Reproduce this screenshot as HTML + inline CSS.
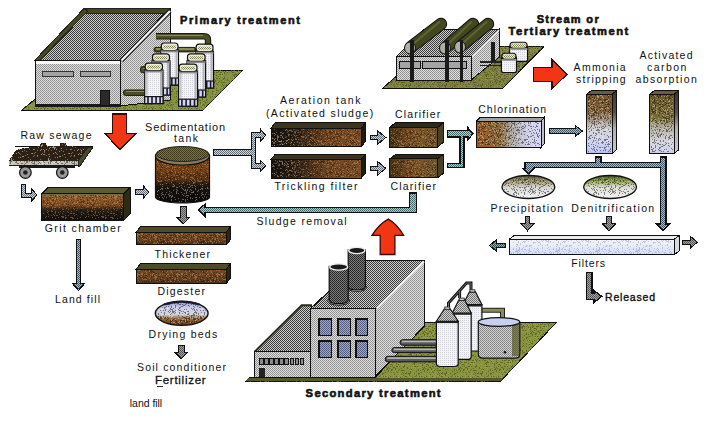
<!DOCTYPE html><html><head><meta charset="utf-8"><style>html,body{margin:0;padding:0;background:#fff;overflow:hidden}svg{display:block}text{font-family:"Liberation Sans",sans-serif}</style></head><body>
<svg width="721" height="422" viewBox="0 0 721 422" shape-rendering="crispEdges">
<defs>
<pattern id="chkL" width="2" height="2" patternUnits="userSpaceOnUse"><rect width="2" height="2" fill="#e0e0e0"/><rect width="1" height="1" fill="#8c8c8c"/><rect x="1" y="1" width="1" height="1" fill="#989898"/></pattern>
<pattern id="chkR" width="2" height="2" patternUnits="userSpaceOnUse"><rect width="2" height="2" fill="#d0d0d0"/><rect width="1" height="1" fill="#363636"/><rect x="1" y="1" width="1" height="1" fill="#3c3c3c"/></pattern>
<pattern id="chkS" width="2" height="2" patternUnits="userSpaceOnUse"><rect width="2" height="2" fill="#e4e4e4"/><rect width="1" height="1" fill="#8c8c8c"/><rect x="1" y="1" width="1" height="1" fill="#969696"/></pattern>
<pattern id="garr" width="2" height="2" patternUnits="userSpaceOnUse"><rect width="2" height="2" fill="#ccd4dc"/><rect width="1" height="1" fill="#5e6872"/><rect x="1" y="1" width="1" height="1" fill="#6a747e"/></pattern>
<pattern id="teal" width="2" height="2" patternUnits="userSpaceOnUse"><rect width="2" height="2" fill="#b0cccc"/><rect width="1" height="1" fill="#3a6466"/><rect x="1" y="1" width="1" height="1" fill="#4a7476"/></pattern>
<pattern id="grass" width="2" height="2" patternUnits="userSpaceOnUse"><rect width="2" height="2" fill="#86943e"/><rect width="1" height="1" fill="#7a8838"/></pattern>
<linearGradient id="gBrownDark" x1="0" y1="0" x2="0" y2="1"><stop offset="0" stop-color="#7a6a50"/><stop offset="0.15" stop-color="#8a5a2a"/><stop offset="0.45" stop-color="#7a4a20"/><stop offset="0.62" stop-color="#2a2018"/><stop offset="1" stop-color="#101010"/></linearGradient>
<linearGradient id="gTank" x1="0" y1="0" x2="0" y2="1"><stop offset="0" stop-color="#6a4a2a"/><stop offset="0.28" stop-color="#7a4418"/><stop offset="0.5" stop-color="#5a3418"/><stop offset="0.66" stop-color="#1c1610"/><stop offset="1" stop-color="#0c0a08"/></linearGradient>
<linearGradient id="gAer" x1="0" y1="0" x2="1" y2="0"><stop offset="0" stop-color="#141210"/><stop offset="0.35" stop-color="#3a2818"/><stop offset="0.6" stop-color="#6c4422"/><stop offset="1" stop-color="#7a4e28"/></linearGradient>
<linearGradient id="gClar" x1="0" y1="0" x2="1" y2="0"><stop offset="0" stop-color="#3e3218"/><stop offset="0.3" stop-color="#6a4420"/><stop offset="0.6" stop-color="#7a5428"/><stop offset="1" stop-color="#6a5430"/></linearGradient>
<linearGradient id="gChl" x1="0" y1="0" x2="1" y2="0"><stop offset="0" stop-color="#9a5a20"/><stop offset="0.35" stop-color="#8e6a3a"/><stop offset="0.55" stop-color="#aaa49c"/><stop offset="0.8" stop-color="#d0d0ec"/><stop offset="1" stop-color="#d6d6f6"/></linearGradient>
<linearGradient id="gAmm" x1="0" y1="0" x2="0" y2="1"><stop offset="0" stop-color="#7a5a30"/><stop offset="0.3" stop-color="#806038"/><stop offset="0.45" stop-color="#a8988a"/><stop offset="0.6" stop-color="#d4d4d8"/><stop offset="0.82" stop-color="#ccd0f0"/><stop offset="1" stop-color="#b8c0f4"/></linearGradient>
<linearGradient id="gCarb" x1="0" y1="0" x2="0" y2="1"><stop offset="0" stop-color="#6a5a2a"/><stop offset="0.4" stop-color="#7a6a34"/><stop offset="0.55" stop-color="#b0aa98"/><stop offset="0.8" stop-color="#d4d4dc"/><stop offset="1" stop-color="#c8cce8"/></linearGradient>
<linearGradient id="gThick" x1="0" y1="0" x2="0" y2="1"><stop offset="0" stop-color="#6e4a26"/><stop offset="0.6" stop-color="#6a4422"/><stop offset="1" stop-color="#4a3018"/></linearGradient>
<linearGradient id="gEllP" x1="0" y1="0" x2="0" y2="1"><stop offset="0" stop-color="#5a5a48"/><stop offset="0.25" stop-color="#948c62"/><stop offset="0.5" stop-color="#d0d0cc"/><stop offset="1" stop-color="#f4f4f4"/></linearGradient>
<linearGradient id="gEllD" x1="0" y1="0" x2="0" y2="1"><stop offset="0" stop-color="#4a5a28"/><stop offset="0.25" stop-color="#8a9a48"/><stop offset="0.5" stop-color="#d8d8d0"/><stop offset="1" stop-color="#f4f4f4"/></linearGradient>
<linearGradient id="gDry" x1="0" y1="0" x2="0" y2="1"><stop offset="0" stop-color="#8080a8"/><stop offset="0.25" stop-color="#c8c8ec"/><stop offset="0.55" stop-color="#d0d0d8"/><stop offset="0.68" stop-color="#9a7a58"/><stop offset="0.8" stop-color="#8a5a2c"/><stop offset="1" stop-color="#6a4020"/></linearGradient>
<linearGradient id="gAmmS" x1="0" y1="0" x2="0" y2="1"><stop offset="0" stop-color="#3a3428"/><stop offset="0.35" stop-color="#5a5448"/><stop offset="0.6" stop-color="#b0b0b0"/><stop offset="1" stop-color="#c8c8d0"/></linearGradient>
<linearGradient id="gCarbS" x1="0" y1="0" x2="0" y2="1"><stop offset="0" stop-color="#3a3428"/><stop offset="0.35" stop-color="#5a5448"/><stop offset="0.6" stop-color="#b0b0b0"/><stop offset="1" stop-color="#c8c8d0"/></linearGradient>
<pattern id="darr" width="2" height="2" patternUnits="userSpaceOnUse"><rect width="2" height="2" fill="#a0a0a0"/><rect width="1" height="1" fill="#505050"/><rect x="1" y="1" width="1" height="1" fill="#606060"/></pattern>
<pattern id="bgray" width="2" height="2" patternUnits="userSpaceOnUse"><rect width="2" height="2" fill="#a8bccc"/><rect width="1" height="1" fill="#3a5060"/><rect x="1" y="1" width="1" height="1" fill="#445a6a"/></pattern>
<pattern id="dteal" width="2" height="2" patternUnits="userSpaceOnUse"><rect width="2" height="2" fill="#8ab0b0"/><rect width="1" height="1" fill="#2a4a4a"/><rect x="1" y="1" width="1" height="1" fill="#345656"/></pattern>
<pattern id="win" width="2" height="2" patternUnits="userSpaceOnUse"><rect width="2" height="2" fill="#a0a8d0"/><rect width="1" height="1" fill="#505878"/><rect x="1" y="1" width="1" height="1" fill="#5a6282"/></pattern>
<pattern id="chim" width="2" height="2" patternUnits="userSpaceOnUse"><rect width="2" height="2" fill="#808080"/><rect width="1" height="1" fill="#202020"/><rect x="1" y="1" width="1" height="1" fill="#2a2a2a"/></pattern>
<pattern id="silo" width="2" height="2" patternUnits="userSpaceOnUse"><rect width="2" height="2" fill="#f4f4f8"/><rect width="1" height="1" fill="#d0d0d8"/></pattern>
<pattern id="tankG" width="2" height="2" patternUnits="userSpaceOnUse"><rect width="2" height="2" fill="#d8d8d8"/><rect width="1" height="1" fill="#7a7a7a"/><rect x="1" y="1" width="1" height="1" fill="#8a8a8a"/></pattern>
<pattern id="grass2" width="2" height="2" patternUnits="userSpaceOnUse"><rect width="2" height="2" fill="#8a963e"/><rect width="1" height="1" fill="#7e8a38"/></pattern>
<pattern id="capd" width="2" height="2" patternUnits="userSpaceOnUse"><rect width="2" height="2" fill="#f0f0dc"/><rect width="1" height="1" fill="#7a7a48"/><rect x="1" y="1" width="1" height="1" fill="#8a8a54"/></pattern>
<pattern id="nz" width="40" height="40" patternUnits="userSpaceOnUse"><path d="M6 0h1v1h-1zM10 0h1v1h-1zM12 0h1v1h-1zM15 0h1v1h-1zM20 0h1v1h-1zM21 0h1v1h-1zM23 0h1v1h-1zM24 0h1v1h-1zM26 0h1v1h-1zM3 1h1v1h-1zM10 1h1v1h-1zM11 1h1v1h-1zM16 1h1v1h-1zM20 1h1v1h-1zM24 1h1v1h-1zM26 1h1v1h-1zM27 1h1v1h-1zM29 1h1v1h-1zM32 1h1v1h-1zM34 1h1v1h-1zM36 1h1v1h-1zM38 1h1v1h-1zM4 2h1v1h-1zM8 2h1v1h-1zM10 2h1v1h-1zM15 2h1v1h-1zM16 2h1v1h-1zM26 2h1v1h-1zM27 2h1v1h-1zM31 2h1v1h-1zM34 2h1v1h-1zM39 2h1v1h-1zM0 3h1v1h-1zM8 3h1v1h-1zM10 3h1v1h-1zM17 3h1v1h-1zM18 3h1v1h-1zM21 3h1v1h-1zM22 3h1v1h-1zM25 3h1v1h-1zM32 3h1v1h-1zM33 3h1v1h-1zM34 3h1v1h-1zM38 3h1v1h-1zM4 4h1v1h-1zM24 4h1v1h-1zM34 4h1v1h-1zM36 4h1v1h-1zM5 5h1v1h-1zM8 5h1v1h-1zM9 5h1v1h-1zM16 5h1v1h-1zM24 5h1v1h-1zM31 5h1v1h-1zM34 5h1v1h-1zM2 6h1v1h-1zM3 6h1v1h-1zM5 6h1v1h-1zM10 6h1v1h-1zM11 6h1v1h-1zM13 6h1v1h-1zM16 6h1v1h-1zM17 6h1v1h-1zM25 6h1v1h-1zM27 6h1v1h-1zM28 6h1v1h-1zM31 6h1v1h-1zM1 7h1v1h-1zM4 7h1v1h-1zM15 7h1v1h-1zM20 7h1v1h-1zM30 7h1v1h-1zM35 7h1v1h-1zM37 7h1v1h-1zM39 7h1v1h-1zM2 8h1v1h-1zM3 8h1v1h-1zM11 8h1v1h-1zM24 8h1v1h-1zM29 8h1v1h-1zM33 8h1v1h-1zM1 9h1v1h-1zM8 9h1v1h-1zM14 9h1v1h-1zM17 9h1v1h-1zM19 9h1v1h-1zM20 9h1v1h-1zM26 9h1v1h-1zM28 9h1v1h-1zM31 9h1v1h-1zM37 9h1v1h-1zM38 9h1v1h-1zM12 10h1v1h-1zM15 10h1v1h-1zM19 10h1v1h-1zM23 10h1v1h-1zM26 10h1v1h-1zM27 10h1v1h-1zM31 10h1v1h-1zM36 10h1v1h-1zM37 10h1v1h-1zM38 10h1v1h-1zM39 10h1v1h-1zM3 11h1v1h-1zM4 11h1v1h-1zM5 11h1v1h-1zM9 11h1v1h-1zM10 11h1v1h-1zM19 11h1v1h-1zM22 11h1v1h-1zM26 11h1v1h-1zM27 11h1v1h-1zM29 11h1v1h-1zM13 12h1v1h-1zM16 12h1v1h-1zM33 12h1v1h-1zM38 12h1v1h-1zM39 12h1v1h-1zM1 13h1v1h-1zM11 13h1v1h-1zM14 13h1v1h-1zM16 13h1v1h-1zM18 13h1v1h-1zM21 13h1v1h-1zM33 13h1v1h-1zM35 13h1v1h-1zM36 13h1v1h-1zM1 14h1v1h-1zM4 14h1v1h-1zM17 14h1v1h-1zM20 14h1v1h-1zM21 14h1v1h-1zM23 14h1v1h-1zM36 14h1v1h-1zM7 15h1v1h-1zM12 15h1v1h-1zM13 15h1v1h-1zM17 15h1v1h-1zM19 15h1v1h-1zM20 15h1v1h-1zM26 15h1v1h-1zM30 15h1v1h-1zM31 15h1v1h-1zM35 15h1v1h-1zM8 16h1v1h-1zM10 16h1v1h-1zM11 16h1v1h-1zM17 16h1v1h-1zM18 16h1v1h-1zM20 16h1v1h-1zM25 16h1v1h-1zM29 16h1v1h-1zM8 17h1v1h-1zM14 17h1v1h-1zM18 17h1v1h-1zM25 17h1v1h-1zM28 17h1v1h-1zM29 17h1v1h-1zM32 17h1v1h-1zM34 17h1v1h-1zM25 18h1v1h-1zM29 18h1v1h-1zM30 18h1v1h-1zM34 18h1v1h-1zM36 18h1v1h-1zM39 18h1v1h-1zM0 19h1v1h-1zM4 19h1v1h-1zM5 19h1v1h-1zM6 19h1v1h-1zM7 19h1v1h-1zM12 19h1v1h-1zM14 19h1v1h-1zM28 19h1v1h-1zM38 19h1v1h-1zM4 20h1v1h-1zM5 20h1v1h-1zM14 20h1v1h-1zM16 20h1v1h-1zM20 20h1v1h-1zM23 20h1v1h-1zM33 20h1v1h-1zM35 20h1v1h-1zM38 20h1v1h-1zM2 21h1v1h-1zM8 21h1v1h-1zM14 21h1v1h-1zM20 21h1v1h-1zM23 21h1v1h-1zM33 21h1v1h-1zM1 22h1v1h-1zM2 22h1v1h-1zM3 22h1v1h-1zM6 22h1v1h-1zM10 22h1v1h-1zM12 22h1v1h-1zM13 22h1v1h-1zM15 22h1v1h-1zM25 22h1v1h-1zM32 22h1v1h-1zM36 22h1v1h-1zM2 23h1v1h-1zM8 23h1v1h-1zM14 23h1v1h-1zM17 23h1v1h-1zM18 23h1v1h-1zM26 23h1v1h-1zM28 23h1v1h-1zM38 23h1v1h-1zM5 24h1v1h-1zM7 24h1v1h-1zM8 24h1v1h-1zM9 24h1v1h-1zM19 24h1v1h-1zM20 24h1v1h-1zM22 24h1v1h-1zM25 24h1v1h-1zM31 24h1v1h-1zM33 24h1v1h-1zM15 25h1v1h-1zM23 25h1v1h-1zM24 25h1v1h-1zM28 25h1v1h-1zM35 25h1v1h-1zM6 26h1v1h-1zM8 26h1v1h-1zM11 26h1v1h-1zM15 26h1v1h-1zM21 26h1v1h-1zM22 26h1v1h-1zM29 26h1v1h-1zM33 26h1v1h-1zM37 26h1v1h-1zM0 27h1v1h-1zM2 27h1v1h-1zM4 27h1v1h-1zM5 27h1v1h-1zM11 27h1v1h-1zM15 27h1v1h-1zM19 27h1v1h-1zM20 27h1v1h-1zM34 27h1v1h-1zM39 27h1v1h-1zM4 28h1v1h-1zM10 28h1v1h-1zM13 28h1v1h-1zM19 28h1v1h-1zM31 28h1v1h-1zM33 28h1v1h-1zM5 29h1v1h-1zM10 29h1v1h-1zM11 29h1v1h-1zM12 29h1v1h-1zM18 29h1v1h-1zM24 29h1v1h-1zM26 29h1v1h-1zM32 29h1v1h-1zM34 29h1v1h-1zM36 29h1v1h-1zM0 30h1v1h-1zM3 30h1v1h-1zM5 30h1v1h-1zM9 30h1v1h-1zM12 30h1v1h-1zM15 30h1v1h-1zM19 30h1v1h-1zM20 30h1v1h-1zM34 30h1v1h-1zM37 30h1v1h-1zM8 31h1v1h-1zM10 31h1v1h-1zM12 31h1v1h-1zM13 31h1v1h-1zM14 31h1v1h-1zM21 31h1v1h-1zM23 31h1v1h-1zM27 31h1v1h-1zM28 31h1v1h-1zM35 31h1v1h-1zM1 32h1v1h-1zM4 32h1v1h-1zM9 32h1v1h-1zM12 32h1v1h-1zM13 32h1v1h-1zM15 32h1v1h-1zM19 32h1v1h-1zM24 32h1v1h-1zM25 32h1v1h-1zM34 32h1v1h-1zM35 32h1v1h-1zM36 32h1v1h-1zM4 33h1v1h-1zM11 33h1v1h-1zM14 33h1v1h-1zM19 33h1v1h-1zM22 33h1v1h-1zM25 33h1v1h-1zM28 33h1v1h-1zM33 33h1v1h-1zM36 33h1v1h-1zM38 33h1v1h-1zM4 34h1v1h-1zM10 34h1v1h-1zM27 34h1v1h-1zM28 34h1v1h-1zM33 34h1v1h-1zM34 34h1v1h-1zM38 34h1v1h-1zM18 35h1v1h-1zM29 35h1v1h-1zM31 35h1v1h-1zM32 35h1v1h-1zM33 35h1v1h-1zM34 35h1v1h-1zM36 35h1v1h-1zM0 36h1v1h-1zM3 36h1v1h-1zM22 36h1v1h-1zM26 36h1v1h-1zM27 36h1v1h-1zM31 36h1v1h-1zM38 36h1v1h-1zM0 37h1v1h-1zM1 37h1v1h-1zM5 37h1v1h-1zM7 37h1v1h-1zM23 37h1v1h-1zM24 37h1v1h-1zM25 37h1v1h-1zM29 37h1v1h-1zM31 37h1v1h-1zM33 37h1v1h-1zM0 38h1v1h-1zM1 38h1v1h-1zM4 38h1v1h-1zM5 38h1v1h-1zM8 38h1v1h-1zM14 38h1v1h-1zM25 38h1v1h-1zM26 38h1v1h-1zM27 38h1v1h-1zM28 38h1v1h-1zM29 38h1v1h-1zM34 38h1v1h-1zM35 38h1v1h-1zM37 38h1v1h-1zM7 39h1v1h-1zM13 39h1v1h-1zM26 39h1v1h-1zM29 39h1v1h-1zM33 39h1v1h-1zM34 39h1v1h-1zM35 39h1v1h-1zM38 39h1v1h-1z" fill="#000" fill-opacity="0.45"/><path d="M11 0h1v1h-1zM25 0h1v1h-1zM35 0h1v1h-1zM0 1h1v1h-1zM1 1h1v1h-1zM2 1h1v1h-1zM19 1h1v1h-1zM21 1h1v1h-1zM25 1h1v1h-1zM39 1h1v1h-1zM2 2h1v1h-1zM11 2h1v1h-1zM13 2h1v1h-1zM14 2h1v1h-1zM18 2h1v1h-1zM30 2h1v1h-1zM2 3h1v1h-1zM4 3h1v1h-1zM7 3h1v1h-1zM11 3h1v1h-1zM15 3h1v1h-1zM19 3h1v1h-1zM2 4h1v1h-1zM12 4h1v1h-1zM39 4h1v1h-1zM4 5h1v1h-1zM6 5h1v1h-1zM14 5h1v1h-1zM23 5h1v1h-1zM30 5h1v1h-1zM33 5h1v1h-1zM38 5h1v1h-1zM8 6h1v1h-1zM15 6h1v1h-1zM32 6h1v1h-1zM33 6h1v1h-1zM26 7h1v1h-1zM29 7h1v1h-1zM0 8h1v1h-1zM12 8h1v1h-1zM14 8h1v1h-1zM20 8h1v1h-1zM6 9h1v1h-1zM13 9h1v1h-1zM21 9h1v1h-1zM23 9h1v1h-1zM24 9h1v1h-1zM30 9h1v1h-1zM5 10h1v1h-1zM9 10h1v1h-1zM10 10h1v1h-1zM16 10h1v1h-1zM18 10h1v1h-1zM14 11h1v1h-1zM0 12h1v1h-1zM14 12h1v1h-1zM17 12h1v1h-1zM20 12h1v1h-1zM23 12h1v1h-1zM36 12h1v1h-1zM2 13h1v1h-1zM27 13h1v1h-1zM30 13h1v1h-1zM32 13h1v1h-1zM34 13h1v1h-1zM9 14h1v1h-1zM27 14h1v1h-1zM35 14h1v1h-1zM0 15h1v1h-1zM1 15h1v1h-1zM8 15h1v1h-1zM14 15h1v1h-1zM27 15h1v1h-1zM37 15h1v1h-1zM2 16h1v1h-1zM15 16h1v1h-1zM21 16h1v1h-1zM24 16h1v1h-1zM26 16h1v1h-1zM37 16h1v1h-1zM38 16h1v1h-1zM2 17h1v1h-1zM17 17h1v1h-1zM37 17h1v1h-1zM38 17h1v1h-1zM3 18h1v1h-1zM32 18h1v1h-1zM35 18h1v1h-1zM8 19h1v1h-1zM11 19h1v1h-1zM13 19h1v1h-1zM16 19h1v1h-1zM20 19h1v1h-1zM23 19h1v1h-1zM27 19h1v1h-1zM34 19h1v1h-1zM37 19h1v1h-1zM6 20h1v1h-1zM7 20h1v1h-1zM12 20h1v1h-1zM21 20h1v1h-1zM29 20h1v1h-1zM0 21h1v1h-1zM1 21h1v1h-1zM3 21h1v1h-1zM6 21h1v1h-1zM17 21h1v1h-1zM25 21h1v1h-1zM28 21h1v1h-1zM29 21h1v1h-1zM32 21h1v1h-1zM35 21h1v1h-1zM39 21h1v1h-1zM11 22h1v1h-1zM23 22h1v1h-1zM33 22h1v1h-1zM34 22h1v1h-1zM6 23h1v1h-1zM19 23h1v1h-1zM22 23h1v1h-1zM33 23h1v1h-1zM0 24h1v1h-1zM2 24h1v1h-1zM13 24h1v1h-1zM27 24h1v1h-1zM29 24h1v1h-1zM14 25h1v1h-1zM21 25h1v1h-1zM31 25h1v1h-1zM32 25h1v1h-1zM34 25h1v1h-1zM2 26h1v1h-1zM12 26h1v1h-1zM13 26h1v1h-1zM14 26h1v1h-1zM19 26h1v1h-1zM24 26h1v1h-1zM30 26h1v1h-1zM35 26h1v1h-1zM7 27h1v1h-1zM16 27h1v1h-1zM17 27h1v1h-1zM21 27h1v1h-1zM28 27h1v1h-1zM29 27h1v1h-1zM32 27h1v1h-1zM1 28h1v1h-1zM2 28h1v1h-1zM5 28h1v1h-1zM7 28h1v1h-1zM8 28h1v1h-1zM22 28h1v1h-1zM35 28h1v1h-1zM0 29h1v1h-1zM2 29h1v1h-1zM16 29h1v1h-1zM23 29h1v1h-1zM25 29h1v1h-1zM27 29h1v1h-1zM30 29h1v1h-1zM35 29h1v1h-1zM13 30h1v1h-1zM17 30h1v1h-1zM24 30h1v1h-1zM25 30h1v1h-1zM27 30h1v1h-1zM31 30h1v1h-1zM38 30h1v1h-1zM9 31h1v1h-1zM16 31h1v1h-1zM26 31h1v1h-1zM29 31h1v1h-1zM33 31h1v1h-1zM37 31h1v1h-1zM2 32h1v1h-1zM6 32h1v1h-1zM11 32h1v1h-1zM16 32h1v1h-1zM21 32h1v1h-1zM26 32h1v1h-1zM31 32h1v1h-1zM32 32h1v1h-1zM33 32h1v1h-1zM1 33h1v1h-1zM9 33h1v1h-1zM16 33h1v1h-1zM18 33h1v1h-1zM24 33h1v1h-1zM26 33h1v1h-1zM2 34h1v1h-1zM3 34h1v1h-1zM5 34h1v1h-1zM8 34h1v1h-1zM22 34h1v1h-1zM30 34h1v1h-1zM35 34h1v1h-1zM37 34h1v1h-1zM1 35h1v1h-1zM9 35h1v1h-1zM10 35h1v1h-1zM12 35h1v1h-1zM23 35h1v1h-1zM26 35h1v1h-1zM27 35h1v1h-1zM28 35h1v1h-1zM4 36h1v1h-1zM9 36h1v1h-1zM11 36h1v1h-1zM12 36h1v1h-1zM25 36h1v1h-1zM2 37h1v1h-1zM6 37h1v1h-1zM11 37h1v1h-1zM14 37h1v1h-1zM27 37h1v1h-1zM30 37h1v1h-1zM35 37h1v1h-1zM36 37h1v1h-1zM39 37h1v1h-1zM3 38h1v1h-1zM18 38h1v1h-1zM30 38h1v1h-1zM32 38h1v1h-1zM11 39h1v1h-1zM15 39h1v1h-1zM22 39h1v1h-1zM23 39h1v1h-1zM25 39h1v1h-1zM27 39h1v1h-1zM36 39h1v1h-1z" fill="#fff" fill-opacity="0.35"/></pattern>
<pattern id="nzL" width="40" height="40" patternUnits="userSpaceOnUse"><path d="M4 0h1v1h-1zM8 0h1v1h-1zM12 0h1v1h-1zM15 0h1v1h-1zM20 0h1v1h-1zM23 0h1v1h-1zM27 0h1v1h-1zM34 0h1v1h-1zM1 1h1v1h-1zM5 1h1v1h-1zM11 1h1v1h-1zM20 1h1v1h-1zM23 1h1v1h-1zM31 1h1v1h-1zM39 1h1v1h-1zM2 2h1v1h-1zM6 2h1v1h-1zM13 2h1v1h-1zM15 2h1v1h-1zM16 2h1v1h-1zM20 2h1v1h-1zM21 2h1v1h-1zM26 2h1v1h-1zM28 2h1v1h-1zM32 2h1v1h-1zM35 2h1v1h-1zM2 3h1v1h-1zM3 3h1v1h-1zM6 3h1v1h-1zM7 3h1v1h-1zM11 3h1v1h-1zM18 3h1v1h-1zM28 3h1v1h-1zM1 4h1v1h-1zM9 4h1v1h-1zM11 4h1v1h-1zM20 4h1v1h-1zM22 4h1v1h-1zM30 4h1v1h-1zM6 5h1v1h-1zM10 5h1v1h-1zM12 5h1v1h-1zM14 5h1v1h-1zM17 5h1v1h-1zM18 5h1v1h-1zM26 5h1v1h-1zM28 5h1v1h-1zM32 5h1v1h-1zM36 5h1v1h-1zM0 6h1v1h-1zM2 6h1v1h-1zM3 6h1v1h-1zM7 6h1v1h-1zM9 6h1v1h-1zM10 6h1v1h-1zM15 6h1v1h-1zM17 6h1v1h-1zM25 6h1v1h-1zM26 6h1v1h-1zM30 6h1v1h-1zM32 6h1v1h-1zM33 6h1v1h-1zM38 6h1v1h-1zM0 7h1v1h-1zM2 7h1v1h-1zM22 7h1v1h-1zM24 7h1v1h-1zM28 7h1v1h-1zM29 7h1v1h-1zM33 7h1v1h-1zM36 7h1v1h-1zM39 7h1v1h-1zM12 8h1v1h-1zM13 8h1v1h-1zM22 8h1v1h-1zM30 8h1v1h-1zM32 8h1v1h-1zM37 8h1v1h-1zM1 9h1v1h-1zM7 9h1v1h-1zM14 9h1v1h-1zM17 9h1v1h-1zM18 9h1v1h-1zM22 9h1v1h-1zM23 9h1v1h-1zM28 9h1v1h-1zM32 9h1v1h-1zM35 9h1v1h-1zM4 10h1v1h-1zM6 10h1v1h-1zM8 10h1v1h-1zM10 10h1v1h-1zM23 10h1v1h-1zM28 10h1v1h-1zM39 10h1v1h-1zM1 11h1v1h-1zM4 11h1v1h-1zM9 11h1v1h-1zM13 11h1v1h-1zM15 11h1v1h-1zM16 11h1v1h-1zM19 11h1v1h-1zM32 11h1v1h-1zM33 11h1v1h-1zM38 11h1v1h-1zM5 12h1v1h-1zM16 12h1v1h-1zM20 12h1v1h-1zM28 12h1v1h-1zM30 12h1v1h-1zM33 12h1v1h-1zM35 12h1v1h-1zM37 12h1v1h-1zM1 13h1v1h-1zM3 13h1v1h-1zM4 13h1v1h-1zM11 13h1v1h-1zM13 13h1v1h-1zM17 13h1v1h-1zM21 13h1v1h-1zM26 13h1v1h-1zM36 13h1v1h-1zM3 14h1v1h-1zM6 14h1v1h-1zM7 14h1v1h-1zM10 14h1v1h-1zM11 14h1v1h-1zM18 14h1v1h-1zM19 14h1v1h-1zM26 14h1v1h-1zM34 14h1v1h-1zM36 14h1v1h-1zM37 14h1v1h-1zM2 15h1v1h-1zM8 15h1v1h-1zM9 15h1v1h-1zM16 15h1v1h-1zM18 15h1v1h-1zM19 15h1v1h-1zM27 15h1v1h-1zM38 15h1v1h-1zM1 16h1v1h-1zM3 16h1v1h-1zM4 16h1v1h-1zM10 16h1v1h-1zM13 16h1v1h-1zM14 16h1v1h-1zM21 16h1v1h-1zM24 16h1v1h-1zM25 16h1v1h-1zM27 16h1v1h-1zM29 16h1v1h-1zM30 16h1v1h-1zM37 16h1v1h-1zM38 16h1v1h-1zM39 16h1v1h-1zM4 17h1v1h-1zM14 17h1v1h-1zM17 17h1v1h-1zM20 17h1v1h-1zM21 17h1v1h-1zM22 17h1v1h-1zM24 17h1v1h-1zM25 17h1v1h-1zM26 17h1v1h-1zM31 17h1v1h-1zM32 17h1v1h-1zM34 17h1v1h-1zM9 18h1v1h-1zM13 18h1v1h-1zM17 18h1v1h-1zM19 18h1v1h-1zM21 18h1v1h-1zM24 18h1v1h-1zM32 18h1v1h-1zM38 18h1v1h-1zM5 19h1v1h-1zM7 19h1v1h-1zM22 19h1v1h-1zM23 19h1v1h-1zM33 19h1v1h-1zM36 19h1v1h-1zM38 19h1v1h-1zM6 20h1v1h-1zM8 20h1v1h-1zM12 20h1v1h-1zM17 20h1v1h-1zM19 20h1v1h-1zM30 20h1v1h-1zM31 20h1v1h-1zM33 20h1v1h-1zM0 21h1v1h-1zM16 21h1v1h-1zM21 21h1v1h-1zM22 21h1v1h-1zM24 21h1v1h-1zM26 21h1v1h-1zM27 21h1v1h-1zM34 21h1v1h-1zM37 21h1v1h-1zM9 22h1v1h-1zM11 22h1v1h-1zM12 22h1v1h-1zM23 22h1v1h-1zM27 22h1v1h-1zM28 22h1v1h-1zM32 22h1v1h-1zM0 23h1v1h-1zM2 23h1v1h-1zM3 23h1v1h-1zM5 23h1v1h-1zM6 23h1v1h-1zM9 23h1v1h-1zM16 23h1v1h-1zM18 23h1v1h-1zM14 24h1v1h-1zM20 24h1v1h-1zM25 24h1v1h-1zM28 24h1v1h-1zM30 24h1v1h-1zM5 25h1v1h-1zM14 25h1v1h-1zM21 25h1v1h-1zM30 25h1v1h-1zM39 25h1v1h-1zM2 26h1v1h-1zM6 26h1v1h-1zM7 26h1v1h-1zM8 26h1v1h-1zM9 26h1v1h-1zM15 26h1v1h-1zM18 26h1v1h-1zM23 26h1v1h-1zM31 26h1v1h-1zM32 26h1v1h-1zM34 26h1v1h-1zM2 27h1v1h-1zM5 27h1v1h-1zM8 27h1v1h-1zM10 27h1v1h-1zM12 27h1v1h-1zM14 27h1v1h-1zM18 27h1v1h-1zM19 27h1v1h-1zM24 27h1v1h-1zM25 27h1v1h-1zM26 27h1v1h-1zM28 27h1v1h-1zM38 27h1v1h-1zM1 28h1v1h-1zM5 28h1v1h-1zM24 28h1v1h-1zM25 28h1v1h-1zM27 28h1v1h-1zM31 28h1v1h-1zM4 29h1v1h-1zM5 29h1v1h-1zM13 29h1v1h-1zM15 29h1v1h-1zM16 29h1v1h-1zM19 29h1v1h-1zM26 29h1v1h-1zM30 29h1v1h-1zM36 29h1v1h-1zM37 29h1v1h-1zM39 29h1v1h-1zM0 30h1v1h-1zM5 30h1v1h-1zM11 30h1v1h-1zM12 30h1v1h-1zM14 30h1v1h-1zM15 30h1v1h-1zM16 30h1v1h-1zM17 30h1v1h-1zM23 30h1v1h-1zM27 30h1v1h-1zM33 30h1v1h-1zM36 30h1v1h-1zM0 31h1v1h-1zM1 31h1v1h-1zM2 31h1v1h-1zM12 31h1v1h-1zM16 31h1v1h-1zM17 31h1v1h-1zM21 31h1v1h-1zM24 31h1v1h-1zM29 31h1v1h-1zM30 31h1v1h-1zM32 31h1v1h-1zM34 31h1v1h-1zM35 31h1v1h-1zM2 32h1v1h-1zM4 32h1v1h-1zM5 32h1v1h-1zM6 32h1v1h-1zM7 32h1v1h-1zM10 32h1v1h-1zM11 32h1v1h-1zM15 32h1v1h-1zM16 32h1v1h-1zM18 32h1v1h-1zM19 32h1v1h-1zM20 32h1v1h-1zM22 32h1v1h-1zM23 32h1v1h-1zM26 32h1v1h-1zM31 32h1v1h-1zM33 32h1v1h-1zM35 32h1v1h-1zM1 33h1v1h-1zM7 33h1v1h-1zM14 33h1v1h-1zM18 33h1v1h-1zM32 33h1v1h-1zM35 33h1v1h-1zM37 33h1v1h-1zM2 34h1v1h-1zM9 34h1v1h-1zM11 34h1v1h-1zM14 34h1v1h-1zM15 34h1v1h-1zM16 34h1v1h-1zM21 34h1v1h-1zM23 34h1v1h-1zM35 34h1v1h-1zM38 34h1v1h-1zM0 35h1v1h-1zM1 35h1v1h-1zM3 35h1v1h-1zM8 35h1v1h-1zM9 35h1v1h-1zM10 35h1v1h-1zM17 35h1v1h-1zM19 35h1v1h-1zM20 35h1v1h-1zM21 35h1v1h-1zM22 35h1v1h-1zM23 35h1v1h-1zM25 35h1v1h-1zM29 35h1v1h-1zM2 36h1v1h-1zM8 36h1v1h-1zM9 36h1v1h-1zM25 36h1v1h-1zM27 36h1v1h-1zM29 36h1v1h-1zM30 36h1v1h-1zM38 36h1v1h-1zM39 36h1v1h-1zM2 37h1v1h-1zM3 37h1v1h-1zM6 37h1v1h-1zM8 37h1v1h-1zM11 37h1v1h-1zM14 37h1v1h-1zM16 37h1v1h-1zM17 37h1v1h-1zM22 37h1v1h-1zM23 37h1v1h-1zM28 37h1v1h-1zM30 37h1v1h-1zM38 37h1v1h-1zM0 38h1v1h-1zM4 38h1v1h-1zM7 38h1v1h-1zM15 38h1v1h-1zM16 38h1v1h-1zM17 38h1v1h-1zM23 38h1v1h-1zM26 38h1v1h-1zM10 39h1v1h-1zM15 39h1v1h-1zM16 39h1v1h-1zM19 39h1v1h-1zM22 39h1v1h-1zM26 39h1v1h-1zM31 39h1v1h-1zM35 39h1v1h-1zM36 39h1v1h-1zM37 39h1v1h-1z" fill="#303040" fill-opacity="0.55"/><path d="" fill="#fff" fill-opacity="0"/></pattern>
<pattern id="nzB" width="40" height="40" patternUnits="userSpaceOnUse"><path d="M3 0h1v1h-1zM7 0h1v1h-1zM8 0h1v1h-1zM12 0h1v1h-1zM13 0h1v1h-1zM19 0h1v1h-1zM31 0h1v1h-1zM37 0h1v1h-1zM38 0h1v1h-1zM1 1h1v1h-1zM2 1h1v1h-1zM3 1h1v1h-1zM4 1h1v1h-1zM15 1h1v1h-1zM24 1h1v1h-1zM26 1h1v1h-1zM28 1h1v1h-1zM0 2h1v1h-1zM1 2h1v1h-1zM3 2h1v1h-1zM7 2h1v1h-1zM9 2h1v1h-1zM32 2h1v1h-1zM39 2h1v1h-1zM7 3h1v1h-1zM10 3h1v1h-1zM14 3h1v1h-1zM17 3h1v1h-1zM26 3h1v1h-1zM6 4h1v1h-1zM11 4h1v1h-1zM13 4h1v1h-1zM22 4h1v1h-1zM26 4h1v1h-1zM28 4h1v1h-1zM33 4h1v1h-1zM36 4h1v1h-1zM39 4h1v1h-1zM0 5h1v1h-1zM2 5h1v1h-1zM12 5h1v1h-1zM13 5h1v1h-1zM30 5h1v1h-1zM34 5h1v1h-1zM1 6h1v1h-1zM11 6h1v1h-1zM23 6h1v1h-1zM27 6h1v1h-1zM28 6h1v1h-1zM35 6h1v1h-1zM37 6h1v1h-1zM1 7h1v1h-1zM2 7h1v1h-1zM4 7h1v1h-1zM11 7h1v1h-1zM21 7h1v1h-1zM25 7h1v1h-1zM29 7h1v1h-1zM32 7h1v1h-1zM34 7h1v1h-1zM35 7h1v1h-1zM6 8h1v1h-1zM9 8h1v1h-1zM11 8h1v1h-1zM13 8h1v1h-1zM15 8h1v1h-1zM17 8h1v1h-1zM24 8h1v1h-1zM32 8h1v1h-1zM0 9h1v1h-1zM1 9h1v1h-1zM20 9h1v1h-1zM27 9h1v1h-1zM32 9h1v1h-1zM35 9h1v1h-1zM0 10h1v1h-1zM5 10h1v1h-1zM12 10h1v1h-1zM20 10h1v1h-1zM23 10h1v1h-1zM27 10h1v1h-1zM35 10h1v1h-1zM9 11h1v1h-1zM10 11h1v1h-1zM13 11h1v1h-1zM21 11h1v1h-1zM28 11h1v1h-1zM37 11h1v1h-1zM5 12h1v1h-1zM9 12h1v1h-1zM10 12h1v1h-1zM11 12h1v1h-1zM12 12h1v1h-1zM16 12h1v1h-1zM37 12h1v1h-1zM6 13h1v1h-1zM7 13h1v1h-1zM10 13h1v1h-1zM17 13h1v1h-1zM21 13h1v1h-1zM24 13h1v1h-1zM28 13h1v1h-1zM35 13h1v1h-1zM36 13h1v1h-1zM37 13h1v1h-1zM39 13h1v1h-1zM3 14h1v1h-1zM6 14h1v1h-1zM11 14h1v1h-1zM15 14h1v1h-1zM16 14h1v1h-1zM17 14h1v1h-1zM18 14h1v1h-1zM20 14h1v1h-1zM21 14h1v1h-1zM27 14h1v1h-1zM28 14h1v1h-1zM30 14h1v1h-1zM34 14h1v1h-1zM38 14h1v1h-1zM7 15h1v1h-1zM19 15h1v1h-1zM26 15h1v1h-1zM30 15h1v1h-1zM31 15h1v1h-1zM33 15h1v1h-1zM36 15h1v1h-1zM39 15h1v1h-1zM1 16h1v1h-1zM3 16h1v1h-1zM7 16h1v1h-1zM11 16h1v1h-1zM16 16h1v1h-1zM18 16h1v1h-1zM19 16h1v1h-1zM29 16h1v1h-1zM35 16h1v1h-1zM7 17h1v1h-1zM13 17h1v1h-1zM14 17h1v1h-1zM20 17h1v1h-1zM29 17h1v1h-1zM35 17h1v1h-1zM1 18h1v1h-1zM8 18h1v1h-1zM9 18h1v1h-1zM10 18h1v1h-1zM12 18h1v1h-1zM14 18h1v1h-1zM17 18h1v1h-1zM30 18h1v1h-1zM34 18h1v1h-1zM36 18h1v1h-1zM38 18h1v1h-1zM1 19h1v1h-1zM7 19h1v1h-1zM10 19h1v1h-1zM17 19h1v1h-1zM26 19h1v1h-1zM3 20h1v1h-1zM17 20h1v1h-1zM30 20h1v1h-1zM32 20h1v1h-1zM33 20h1v1h-1zM4 21h1v1h-1zM5 21h1v1h-1zM14 21h1v1h-1zM15 21h1v1h-1zM19 21h1v1h-1zM26 21h1v1h-1zM28 21h1v1h-1zM30 21h1v1h-1zM31 21h1v1h-1zM33 21h1v1h-1zM36 21h1v1h-1zM2 22h1v1h-1zM13 22h1v1h-1zM25 22h1v1h-1zM30 22h1v1h-1zM32 22h1v1h-1zM33 22h1v1h-1zM34 22h1v1h-1zM35 22h1v1h-1zM5 23h1v1h-1zM8 23h1v1h-1zM12 23h1v1h-1zM16 23h1v1h-1zM18 23h1v1h-1zM31 23h1v1h-1zM32 23h1v1h-1zM38 23h1v1h-1zM9 24h1v1h-1zM12 24h1v1h-1zM25 24h1v1h-1zM27 24h1v1h-1zM36 24h1v1h-1zM38 24h1v1h-1zM2 25h1v1h-1zM4 25h1v1h-1zM9 25h1v1h-1zM15 25h1v1h-1zM16 25h1v1h-1zM26 25h1v1h-1zM28 25h1v1h-1zM30 25h1v1h-1zM6 26h1v1h-1zM7 26h1v1h-1zM8 26h1v1h-1zM10 26h1v1h-1zM16 26h1v1h-1zM19 26h1v1h-1zM23 26h1v1h-1zM28 26h1v1h-1zM31 26h1v1h-1zM32 26h1v1h-1zM37 26h1v1h-1zM8 27h1v1h-1zM9 27h1v1h-1zM11 27h1v1h-1zM13 27h1v1h-1zM25 27h1v1h-1zM27 27h1v1h-1zM32 27h1v1h-1zM34 27h1v1h-1zM35 27h1v1h-1zM38 27h1v1h-1zM39 27h1v1h-1zM2 28h1v1h-1zM4 28h1v1h-1zM9 28h1v1h-1zM17 28h1v1h-1zM18 28h1v1h-1zM23 28h1v1h-1zM32 28h1v1h-1zM36 28h1v1h-1zM39 28h1v1h-1zM10 29h1v1h-1zM11 29h1v1h-1zM13 29h1v1h-1zM22 29h1v1h-1zM27 29h1v1h-1zM28 29h1v1h-1zM38 29h1v1h-1zM0 30h1v1h-1zM2 30h1v1h-1zM3 30h1v1h-1zM6 30h1v1h-1zM24 30h1v1h-1zM27 30h1v1h-1zM28 30h1v1h-1zM30 30h1v1h-1zM31 30h1v1h-1zM1 31h1v1h-1zM3 31h1v1h-1zM6 31h1v1h-1zM30 31h1v1h-1zM31 31h1v1h-1zM32 31h1v1h-1zM33 31h1v1h-1zM3 32h1v1h-1zM4 32h1v1h-1zM14 32h1v1h-1zM16 32h1v1h-1zM29 32h1v1h-1zM31 32h1v1h-1zM33 32h1v1h-1zM34 32h1v1h-1zM5 33h1v1h-1zM13 33h1v1h-1zM19 33h1v1h-1zM24 33h1v1h-1zM35 33h1v1h-1zM36 33h1v1h-1zM38 33h1v1h-1zM6 34h1v1h-1zM14 34h1v1h-1zM23 34h1v1h-1zM28 34h1v1h-1zM29 34h1v1h-1zM4 35h1v1h-1zM5 35h1v1h-1zM10 35h1v1h-1zM11 35h1v1h-1zM13 35h1v1h-1zM15 35h1v1h-1zM25 35h1v1h-1zM26 35h1v1h-1zM33 35h1v1h-1zM15 36h1v1h-1zM19 36h1v1h-1zM23 36h1v1h-1zM27 36h1v1h-1zM31 36h1v1h-1zM33 36h1v1h-1zM38 36h1v1h-1zM39 36h1v1h-1zM0 37h1v1h-1zM2 37h1v1h-1zM3 37h1v1h-1zM6 37h1v1h-1zM9 37h1v1h-1zM10 37h1v1h-1zM12 37h1v1h-1zM16 37h1v1h-1zM20 37h1v1h-1zM22 37h1v1h-1zM24 37h1v1h-1zM25 37h1v1h-1zM31 37h1v1h-1zM7 38h1v1h-1zM10 38h1v1h-1zM23 38h1v1h-1zM26 38h1v1h-1zM37 38h1v1h-1zM0 39h1v1h-1zM1 39h1v1h-1zM7 39h1v1h-1zM13 39h1v1h-1zM16 39h1v1h-1zM33 39h1v1h-1z" fill="#000" fill-opacity="0.35"/><path d="M10 0h1v1h-1zM18 0h1v1h-1zM30 0h1v1h-1zM39 0h1v1h-1zM5 1h1v1h-1zM8 1h1v1h-1zM10 1h1v1h-1zM11 1h1v1h-1zM14 1h1v1h-1zM19 1h1v1h-1zM37 1h1v1h-1zM6 2h1v1h-1zM12 2h1v1h-1zM16 2h1v1h-1zM25 2h1v1h-1zM26 2h1v1h-1zM34 2h1v1h-1zM37 2h1v1h-1zM2 3h1v1h-1zM12 3h1v1h-1zM24 3h1v1h-1zM33 3h1v1h-1zM34 3h1v1h-1zM35 3h1v1h-1zM36 3h1v1h-1zM38 3h1v1h-1zM4 4h1v1h-1zM5 4h1v1h-1zM7 4h1v1h-1zM8 4h1v1h-1zM17 4h1v1h-1zM19 4h1v1h-1zM24 4h1v1h-1zM32 4h1v1h-1zM11 5h1v1h-1zM15 5h1v1h-1zM17 5h1v1h-1zM26 5h1v1h-1zM39 5h1v1h-1zM2 6h1v1h-1zM7 6h1v1h-1zM8 6h1v1h-1zM34 6h1v1h-1zM6 7h1v1h-1zM12 7h1v1h-1zM14 7h1v1h-1zM15 7h1v1h-1zM19 7h1v1h-1zM1 8h1v1h-1zM12 8h1v1h-1zM26 8h1v1h-1zM33 8h1v1h-1zM37 8h1v1h-1zM14 9h1v1h-1zM22 9h1v1h-1zM23 9h1v1h-1zM28 9h1v1h-1zM34 9h1v1h-1zM7 10h1v1h-1zM11 10h1v1h-1zM36 10h1v1h-1zM8 11h1v1h-1zM11 11h1v1h-1zM12 11h1v1h-1zM15 11h1v1h-1zM20 11h1v1h-1zM23 11h1v1h-1zM27 11h1v1h-1zM31 11h1v1h-1zM1 12h1v1h-1zM7 12h1v1h-1zM15 12h1v1h-1zM18 12h1v1h-1zM28 12h1v1h-1zM3 13h1v1h-1zM15 13h1v1h-1zM22 13h1v1h-1zM30 13h1v1h-1zM31 13h1v1h-1zM33 13h1v1h-1zM34 13h1v1h-1zM1 14h1v1h-1zM8 14h1v1h-1zM13 14h1v1h-1zM19 14h1v1h-1zM36 14h1v1h-1zM11 15h1v1h-1zM14 15h1v1h-1zM16 15h1v1h-1zM17 15h1v1h-1zM25 15h1v1h-1zM28 15h1v1h-1zM34 15h1v1h-1zM6 16h1v1h-1zM8 16h1v1h-1zM21 16h1v1h-1zM22 16h1v1h-1zM23 16h1v1h-1zM0 17h1v1h-1zM5 17h1v1h-1zM12 17h1v1h-1zM18 17h1v1h-1zM22 17h1v1h-1zM23 17h1v1h-1zM25 17h1v1h-1zM26 17h1v1h-1zM30 17h1v1h-1zM31 17h1v1h-1zM32 17h1v1h-1zM15 18h1v1h-1zM25 18h1v1h-1zM32 18h1v1h-1zM33 18h1v1h-1zM37 18h1v1h-1zM8 19h1v1h-1zM9 19h1v1h-1zM15 19h1v1h-1zM16 19h1v1h-1zM18 19h1v1h-1zM30 19h1v1h-1zM34 19h1v1h-1zM1 20h1v1h-1zM5 20h1v1h-1zM7 20h1v1h-1zM12 20h1v1h-1zM31 20h1v1h-1zM34 20h1v1h-1zM37 20h1v1h-1zM38 20h1v1h-1zM0 21h1v1h-1zM1 21h1v1h-1zM29 21h1v1h-1zM32 21h1v1h-1zM35 21h1v1h-1zM38 21h1v1h-1zM39 21h1v1h-1zM1 22h1v1h-1zM5 22h1v1h-1zM8 22h1v1h-1zM10 22h1v1h-1zM11 22h1v1h-1zM14 22h1v1h-1zM17 22h1v1h-1zM19 22h1v1h-1zM21 22h1v1h-1zM27 22h1v1h-1zM36 22h1v1h-1zM1 23h1v1h-1zM2 23h1v1h-1zM4 23h1v1h-1zM6 23h1v1h-1zM10 23h1v1h-1zM29 23h1v1h-1zM34 23h1v1h-1zM2 24h1v1h-1zM3 24h1v1h-1zM13 24h1v1h-1zM22 24h1v1h-1zM28 24h1v1h-1zM30 24h1v1h-1zM37 24h1v1h-1zM39 24h1v1h-1zM10 25h1v1h-1zM18 25h1v1h-1zM22 25h1v1h-1zM24 25h1v1h-1zM27 25h1v1h-1zM31 25h1v1h-1zM34 25h1v1h-1zM0 26h1v1h-1zM1 26h1v1h-1zM2 26h1v1h-1zM3 26h1v1h-1zM9 26h1v1h-1zM20 26h1v1h-1zM39 26h1v1h-1zM4 27h1v1h-1zM5 27h1v1h-1zM17 27h1v1h-1zM18 27h1v1h-1zM19 27h1v1h-1zM21 27h1v1h-1zM22 27h1v1h-1zM28 27h1v1h-1zM0 28h1v1h-1zM16 28h1v1h-1zM35 28h1v1h-1zM38 28h1v1h-1zM6 29h1v1h-1zM7 29h1v1h-1zM21 29h1v1h-1zM29 29h1v1h-1zM32 29h1v1h-1zM36 29h1v1h-1zM10 30h1v1h-1zM16 30h1v1h-1zM18 30h1v1h-1zM19 30h1v1h-1zM29 30h1v1h-1zM2 31h1v1h-1zM7 31h1v1h-1zM11 31h1v1h-1zM25 31h1v1h-1zM29 31h1v1h-1zM6 32h1v1h-1zM11 32h1v1h-1zM26 32h1v1h-1zM12 33h1v1h-1zM17 33h1v1h-1zM21 33h1v1h-1zM22 33h1v1h-1zM33 33h1v1h-1zM0 34h1v1h-1zM2 34h1v1h-1zM4 34h1v1h-1zM7 34h1v1h-1zM8 34h1v1h-1zM16 34h1v1h-1zM17 34h1v1h-1zM18 34h1v1h-1zM19 34h1v1h-1zM21 34h1v1h-1zM22 34h1v1h-1zM24 34h1v1h-1zM26 34h1v1h-1zM30 34h1v1h-1zM32 34h1v1h-1zM36 34h1v1h-1zM6 35h1v1h-1zM17 35h1v1h-1zM32 35h1v1h-1zM34 35h1v1h-1zM39 35h1v1h-1zM6 36h1v1h-1zM9 36h1v1h-1zM12 36h1v1h-1zM17 36h1v1h-1zM21 36h1v1h-1zM30 36h1v1h-1zM35 36h1v1h-1zM36 36h1v1h-1zM27 37h1v1h-1zM34 37h1v1h-1zM35 37h1v1h-1zM36 37h1v1h-1zM1 38h1v1h-1zM12 38h1v1h-1zM15 38h1v1h-1zM17 38h1v1h-1zM22 38h1v1h-1zM29 38h1v1h-1zM35 38h1v1h-1zM4 39h1v1h-1zM14 39h1v1h-1zM15 39h1v1h-1zM23 39h1v1h-1zM24 39h1v1h-1zM25 39h1v1h-1zM26 39h1v1h-1zM35 39h1v1h-1z" fill="#e8a060" fill-opacity="0.4"/></pattern>
<pattern id="nzF" width="40" height="40" patternUnits="userSpaceOnUse"><path d="M6 0h1v1h-1zM11 0h1v1h-1zM16 0h1v1h-1zM21 0h1v1h-1zM23 0h1v1h-1zM25 0h1v1h-1zM26 0h1v1h-1zM4 1h1v1h-1zM5 1h1v1h-1zM8 1h1v1h-1zM17 1h1v1h-1zM19 1h1v1h-1zM22 1h1v1h-1zM26 1h1v1h-1zM27 1h1v1h-1zM38 1h1v1h-1zM2 2h1v1h-1zM4 2h1v1h-1zM14 2h1v1h-1zM15 2h1v1h-1zM19 2h1v1h-1zM28 2h1v1h-1zM30 2h1v1h-1zM33 2h1v1h-1zM38 2h1v1h-1zM0 3h1v1h-1zM13 3h1v1h-1zM20 3h1v1h-1zM0 4h1v1h-1zM36 4h1v1h-1zM3 5h1v1h-1zM6 5h1v1h-1zM7 5h1v1h-1zM11 5h1v1h-1zM18 5h1v1h-1zM22 5h1v1h-1zM25 5h1v1h-1zM27 5h1v1h-1zM37 5h1v1h-1zM5 6h1v1h-1zM6 6h1v1h-1zM9 6h1v1h-1zM30 6h1v1h-1zM36 6h1v1h-1zM3 7h1v1h-1zM11 7h1v1h-1zM22 7h1v1h-1zM28 7h1v1h-1zM2 8h1v1h-1zM9 8h1v1h-1zM14 8h1v1h-1zM17 8h1v1h-1zM22 8h1v1h-1zM27 8h1v1h-1zM33 8h1v1h-1zM36 8h1v1h-1zM1 9h1v1h-1zM2 9h1v1h-1zM4 9h1v1h-1zM5 9h1v1h-1zM9 9h1v1h-1zM16 9h1v1h-1zM18 9h1v1h-1zM29 9h1v1h-1zM36 9h1v1h-1zM38 9h1v1h-1zM39 9h1v1h-1zM6 10h1v1h-1zM8 10h1v1h-1zM9 10h1v1h-1zM13 10h1v1h-1zM17 10h1v1h-1zM25 10h1v1h-1zM36 10h1v1h-1zM37 10h1v1h-1zM39 10h1v1h-1zM3 11h1v1h-1zM9 11h1v1h-1zM10 11h1v1h-1zM11 11h1v1h-1zM15 11h1v1h-1zM22 11h1v1h-1zM30 11h1v1h-1zM37 11h1v1h-1zM39 11h1v1h-1zM15 12h1v1h-1zM16 12h1v1h-1zM19 12h1v1h-1zM24 12h1v1h-1zM25 12h1v1h-1zM29 12h1v1h-1zM31 12h1v1h-1zM33 12h1v1h-1zM37 12h1v1h-1zM38 12h1v1h-1zM4 13h1v1h-1zM6 13h1v1h-1zM12 13h1v1h-1zM24 13h1v1h-1zM26 13h1v1h-1zM30 13h1v1h-1zM31 13h1v1h-1zM33 13h1v1h-1zM37 13h1v1h-1zM39 13h1v1h-1zM3 14h1v1h-1zM21 14h1v1h-1zM22 14h1v1h-1zM27 14h1v1h-1zM30 14h1v1h-1zM31 14h1v1h-1zM32 14h1v1h-1zM1 15h1v1h-1zM5 15h1v1h-1zM12 15h1v1h-1zM23 15h1v1h-1zM26 15h1v1h-1zM28 15h1v1h-1zM7 16h1v1h-1zM10 16h1v1h-1zM12 16h1v1h-1zM23 16h1v1h-1zM29 16h1v1h-1zM7 17h1v1h-1zM8 17h1v1h-1zM17 17h1v1h-1zM33 17h1v1h-1zM1 18h1v1h-1zM16 18h1v1h-1zM30 18h1v1h-1zM31 18h1v1h-1zM0 19h1v1h-1zM12 19h1v1h-1zM14 19h1v1h-1zM15 19h1v1h-1zM16 19h1v1h-1zM18 19h1v1h-1zM28 19h1v1h-1zM29 19h1v1h-1zM30 19h1v1h-1zM36 19h1v1h-1zM0 20h1v1h-1zM7 20h1v1h-1zM11 20h1v1h-1zM26 20h1v1h-1zM30 20h1v1h-1zM32 20h1v1h-1zM38 20h1v1h-1zM1 21h1v1h-1zM4 21h1v1h-1zM9 21h1v1h-1zM14 21h1v1h-1zM19 21h1v1h-1zM27 21h1v1h-1zM28 21h1v1h-1zM38 21h1v1h-1zM9 22h1v1h-1zM12 22h1v1h-1zM17 22h1v1h-1zM21 22h1v1h-1zM25 22h1v1h-1zM32 22h1v1h-1zM36 22h1v1h-1zM37 22h1v1h-1zM9 23h1v1h-1zM12 23h1v1h-1zM18 23h1v1h-1zM20 23h1v1h-1zM23 23h1v1h-1zM37 23h1v1h-1zM6 24h1v1h-1zM12 24h1v1h-1zM13 24h1v1h-1zM15 24h1v1h-1zM32 24h1v1h-1zM33 24h1v1h-1zM36 24h1v1h-1zM37 24h1v1h-1zM1 25h1v1h-1zM3 25h1v1h-1zM9 25h1v1h-1zM10 25h1v1h-1zM12 25h1v1h-1zM13 25h1v1h-1zM18 25h1v1h-1zM21 25h1v1h-1zM25 25h1v1h-1zM30 25h1v1h-1zM35 25h1v1h-1zM37 25h1v1h-1zM2 26h1v1h-1zM8 26h1v1h-1zM19 26h1v1h-1zM27 26h1v1h-1zM30 26h1v1h-1zM34 26h1v1h-1zM2 27h1v1h-1zM3 27h1v1h-1zM7 27h1v1h-1zM14 27h1v1h-1zM17 27h1v1h-1zM20 27h1v1h-1zM25 27h1v1h-1zM27 27h1v1h-1zM29 27h1v1h-1zM6 28h1v1h-1zM7 28h1v1h-1zM20 28h1v1h-1zM24 28h1v1h-1zM26 28h1v1h-1zM28 28h1v1h-1zM34 28h1v1h-1zM38 28h1v1h-1zM0 29h1v1h-1zM11 29h1v1h-1zM15 29h1v1h-1zM19 29h1v1h-1zM33 29h1v1h-1zM35 29h1v1h-1zM39 29h1v1h-1zM2 30h1v1h-1zM13 30h1v1h-1zM26 30h1v1h-1zM29 30h1v1h-1zM30 30h1v1h-1zM31 30h1v1h-1zM33 30h1v1h-1zM39 30h1v1h-1zM8 31h1v1h-1zM12 31h1v1h-1zM14 31h1v1h-1zM16 31h1v1h-1zM18 31h1v1h-1zM31 31h1v1h-1zM16 32h1v1h-1zM19 32h1v1h-1zM21 32h1v1h-1zM22 32h1v1h-1zM24 32h1v1h-1zM25 32h1v1h-1zM31 32h1v1h-1zM32 32h1v1h-1zM33 32h1v1h-1zM34 32h1v1h-1zM10 33h1v1h-1zM15 33h1v1h-1zM23 33h1v1h-1zM25 33h1v1h-1zM29 33h1v1h-1zM33 33h1v1h-1zM36 33h1v1h-1zM0 34h1v1h-1zM4 34h1v1h-1zM7 34h1v1h-1zM12 34h1v1h-1zM18 34h1v1h-1zM33 34h1v1h-1zM3 35h1v1h-1zM4 35h1v1h-1zM7 35h1v1h-1zM8 35h1v1h-1zM12 35h1v1h-1zM26 35h1v1h-1zM35 35h1v1h-1zM10 36h1v1h-1zM24 36h1v1h-1zM28 36h1v1h-1zM34 36h1v1h-1zM35 36h1v1h-1zM0 37h1v1h-1zM1 37h1v1h-1zM10 37h1v1h-1zM14 37h1v1h-1zM25 37h1v1h-1zM28 37h1v1h-1zM29 37h1v1h-1zM4 38h1v1h-1zM5 38h1v1h-1zM8 38h1v1h-1zM18 38h1v1h-1zM26 38h1v1h-1zM30 38h1v1h-1zM5 39h1v1h-1zM9 39h1v1h-1zM11 39h1v1h-1zM14 39h1v1h-1zM19 39h1v1h-1zM23 39h1v1h-1zM31 39h1v1h-1zM39 39h1v1h-1z" fill="#98a4d8" fill-opacity="0.55"/><path d="M28 0h1v1h-1zM36 0h1v1h-1zM3 1h1v1h-1zM28 1h1v1h-1zM30 1h1v1h-1zM13 2h1v1h-1zM18 2h1v1h-1zM20 4h1v1h-1zM27 4h1v1h-1zM37 4h1v1h-1zM9 5h1v1h-1zM10 5h1v1h-1zM39 7h1v1h-1zM39 8h1v1h-1zM33 9h1v1h-1zM38 10h1v1h-1zM18 11h1v1h-1zM35 11h1v1h-1zM36 11h1v1h-1zM8 12h1v1h-1zM0 13h1v1h-1zM0 14h1v1h-1zM23 14h1v1h-1zM7 15h1v1h-1zM35 15h1v1h-1zM11 16h1v1h-1zM15 16h1v1h-1zM26 16h1v1h-1zM26 17h1v1h-1zM35 17h1v1h-1zM12 18h1v1h-1zM29 18h1v1h-1zM34 18h1v1h-1zM35 18h1v1h-1zM13 19h1v1h-1zM31 19h1v1h-1zM10 22h1v1h-1zM16 22h1v1h-1zM26 22h1v1h-1zM35 23h1v1h-1zM10 24h1v1h-1zM31 24h1v1h-1zM34 25h1v1h-1zM1 26h1v1h-1zM9 27h1v1h-1zM37 27h1v1h-1zM21 28h1v1h-1zM27 28h1v1h-1zM32 28h1v1h-1zM3 30h1v1h-1zM11 31h1v1h-1zM23 31h1v1h-1zM7 32h1v1h-1zM12 32h1v1h-1zM3 33h1v1h-1zM9 34h1v1h-1zM0 35h1v1h-1zM14 35h1v1h-1zM22 35h1v1h-1zM0 36h1v1h-1zM22 36h1v1h-1zM36 36h1v1h-1zM8 37h1v1h-1zM11 37h1v1h-1zM11 38h1v1h-1zM16 38h1v1h-1zM27 38h1v1h-1zM8 39h1v1h-1zM16 39h1v1h-1z" fill="#808898" fill-opacity="0.5"/></pattern>
<pattern id="nzC" width="37" height="37" patternUnits="userSpaceOnUse"><path d="M6 1h1v1h-1zM17 1h1v1h-1zM29 1h1v1h-1zM34 1h1v1h-1zM0 2h1v1h-1zM11 2h1v1h-1zM14 2h1v1h-1zM24 2h1v1h-1zM7 3h1v1h-1zM26 3h1v1h-1zM7 4h1v1h-1zM35 4h1v1h-1zM5 5h1v1h-1zM19 5h1v1h-1zM31 5h1v1h-1zM34 5h1v1h-1zM6 6h1v1h-1zM11 6h1v1h-1zM12 6h1v1h-1zM20 6h1v1h-1zM9 7h1v1h-1zM25 7h1v1h-1zM34 7h1v1h-1zM0 8h1v1h-1zM33 8h1v1h-1zM18 9h1v1h-1zM28 9h1v1h-1zM3 11h1v1h-1zM13 11h1v1h-1zM30 11h1v1h-1zM28 12h1v1h-1zM27 13h1v1h-1zM26 14h1v1h-1zM36 14h1v1h-1zM18 15h1v1h-1zM28 15h1v1h-1zM36 17h1v1h-1zM13 18h1v1h-1zM21 18h1v1h-1zM35 18h1v1h-1zM25 20h1v1h-1zM2 21h1v1h-1zM12 21h1v1h-1zM17 21h1v1h-1zM27 22h1v1h-1zM33 22h1v1h-1zM35 22h1v1h-1zM15 23h1v1h-1zM31 23h1v1h-1zM33 23h1v1h-1zM35 23h1v1h-1zM1 24h1v1h-1zM3 24h1v1h-1zM5 24h1v1h-1zM18 25h1v1h-1zM29 25h1v1h-1zM32 25h1v1h-1zM30 26h1v1h-1zM1 27h1v1h-1zM24 27h1v1h-1zM1 28h1v1h-1zM7 28h1v1h-1zM16 28h1v1h-1zM23 28h1v1h-1zM3 29h1v1h-1zM17 30h1v1h-1zM27 30h1v1h-1zM33 30h1v1h-1zM16 31h1v1h-1zM20 31h1v1h-1zM21 31h1v1h-1zM27 32h1v1h-1zM5 33h1v1h-1zM9 33h1v1h-1zM15 33h1v1h-1zM19 33h1v1h-1zM25 33h1v1h-1zM34 34h1v1h-1zM1 36h1v1h-1z" fill="#b08a60" fill-opacity="0.7"/><path d="M12 0h1v1h-1zM17 0h1v1h-1zM24 0h1v1h-1zM4 1h1v1h-1zM9 1h1v1h-1zM19 1h1v1h-1zM33 1h1v1h-1zM3 2h1v1h-1zM7 2h1v1h-1zM22 3h1v1h-1zM18 4h1v1h-1zM16 5h1v1h-1zM32 5h1v1h-1zM4 6h1v1h-1zM7 6h1v1h-1zM27 6h1v1h-1zM0 7h1v1h-1zM12 8h1v1h-1zM22 8h1v1h-1zM23 8h1v1h-1zM20 9h1v1h-1zM11 10h1v1h-1zM11 11h1v1h-1zM11 12h1v1h-1zM12 12h1v1h-1zM4 13h1v1h-1zM20 13h1v1h-1zM26 13h1v1h-1zM20 14h1v1h-1zM24 14h1v1h-1zM32 14h1v1h-1zM34 14h1v1h-1zM2 15h1v1h-1zM15 15h1v1h-1zM12 16h1v1h-1zM18 16h1v1h-1zM16 17h1v1h-1zM19 18h1v1h-1zM20 18h1v1h-1zM31 18h1v1h-1zM33 18h1v1h-1zM16 20h1v1h-1zM26 20h1v1h-1zM32 20h1v1h-1zM22 21h1v1h-1zM28 21h1v1h-1zM19 22h1v1h-1zM29 22h1v1h-1zM36 22h1v1h-1zM0 24h1v1h-1zM20 24h1v1h-1zM23 25h1v1h-1zM14 26h1v1h-1zM17 26h1v1h-1zM34 26h1v1h-1zM35 26h1v1h-1zM9 27h1v1h-1zM29 27h1v1h-1zM12 28h1v1h-1zM19 29h1v1h-1zM0 31h1v1h-1zM11 32h1v1h-1zM35 32h1v1h-1zM21 33h1v1h-1zM31 33h1v1h-1zM4 34h1v1h-1zM5 34h1v1h-1zM14 34h1v1h-1zM28 34h1v1h-1zM4 35h1v1h-1zM10 35h1v1h-1zM16 35h1v1h-1zM35 35h1v1h-1zM13 36h1v1h-1zM15 36h1v1h-1zM16 36h1v1h-1zM17 36h1v1h-1zM18 36h1v1h-1z" fill="#e8e0d0" fill-opacity="0.6"/></pattern>
<pattern id="olv" width="2" height="2" patternUnits="userSpaceOnUse"><rect width="2" height="2" fill="#7a7440"/><rect width="1" height="1" fill="#3a3818"/><rect x="1" y="1" width="1" height="1" fill="#44401c"/></pattern>
<pattern id="cone" width="2" height="2" patternUnits="userSpaceOnUse"><rect width="2" height="2" fill="#d4d4d4"/><rect width="1" height="1" fill="#6a6a6a"/><rect x="1" y="1" width="1" height="1" fill="#747474"/></pattern>
<pattern id="grass3" width="2" height="2" patternUnits="userSpaceOnUse"><rect width="2" height="2" fill="#7e823c"/><rect width="1" height="1" fill="#727636"/></pattern>
<pattern id="nzG" width="36" height="36" patternUnits="userSpaceOnUse"><path d="M0 0h1v1h-1zM1 0h1v1h-1zM4 0h1v1h-1zM5 0h1v1h-1zM8 0h1v1h-1zM11 0h1v1h-1zM16 0h1v1h-1zM17 0h1v1h-1zM34 0h1v1h-1zM8 1h1v1h-1zM19 1h1v1h-1zM23 1h1v1h-1zM28 1h1v1h-1zM3 2h1v1h-1zM4 2h1v1h-1zM6 2h1v1h-1zM18 2h1v1h-1zM19 2h1v1h-1zM20 2h1v1h-1zM29 2h1v1h-1zM32 2h1v1h-1zM33 2h1v1h-1zM34 2h1v1h-1zM0 3h1v1h-1zM17 3h1v1h-1zM18 3h1v1h-1zM24 3h1v1h-1zM26 3h1v1h-1zM28 3h1v1h-1zM2 4h1v1h-1zM18 4h1v1h-1zM26 4h1v1h-1zM30 4h1v1h-1zM31 4h1v1h-1zM8 5h1v1h-1zM26 5h1v1h-1zM32 5h1v1h-1zM0 6h1v1h-1zM1 6h1v1h-1zM3 6h1v1h-1zM7 6h1v1h-1zM8 6h1v1h-1zM18 6h1v1h-1zM19 6h1v1h-1zM21 6h1v1h-1zM30 6h1v1h-1zM7 7h1v1h-1zM11 7h1v1h-1zM26 7h1v1h-1zM28 7h1v1h-1zM33 7h1v1h-1zM34 7h1v1h-1zM5 8h1v1h-1zM11 8h1v1h-1zM27 8h1v1h-1zM29 8h1v1h-1zM35 8h1v1h-1zM3 9h1v1h-1zM13 9h1v1h-1zM15 9h1v1h-1zM22 9h1v1h-1zM26 9h1v1h-1zM27 9h1v1h-1zM31 9h1v1h-1zM32 9h1v1h-1zM35 9h1v1h-1zM2 10h1v1h-1zM5 10h1v1h-1zM6 10h1v1h-1zM7 10h1v1h-1zM8 10h1v1h-1zM22 10h1v1h-1zM24 10h1v1h-1zM28 10h1v1h-1zM31 10h1v1h-1zM0 11h1v1h-1zM14 11h1v1h-1zM20 11h1v1h-1zM28 11h1v1h-1zM1 12h1v1h-1zM6 12h1v1h-1zM10 12h1v1h-1zM14 12h1v1h-1zM25 12h1v1h-1zM31 12h1v1h-1zM33 12h1v1h-1zM7 13h1v1h-1zM9 13h1v1h-1zM10 13h1v1h-1zM12 13h1v1h-1zM13 13h1v1h-1zM14 13h1v1h-1zM18 13h1v1h-1zM22 13h1v1h-1zM23 13h1v1h-1zM5 14h1v1h-1zM13 14h1v1h-1zM22 14h1v1h-1zM34 14h1v1h-1zM7 15h1v1h-1zM13 15h1v1h-1zM20 15h1v1h-1zM0 16h1v1h-1zM9 16h1v1h-1zM10 16h1v1h-1zM19 16h1v1h-1zM23 16h1v1h-1zM25 16h1v1h-1zM30 16h1v1h-1zM4 17h1v1h-1zM16 17h1v1h-1zM28 17h1v1h-1zM0 18h1v1h-1zM1 18h1v1h-1zM2 18h1v1h-1zM6 18h1v1h-1zM15 18h1v1h-1zM26 18h1v1h-1zM4 19h1v1h-1zM6 19h1v1h-1zM11 19h1v1h-1zM13 19h1v1h-1zM15 19h1v1h-1zM19 19h1v1h-1zM22 19h1v1h-1zM27 19h1v1h-1zM28 19h1v1h-1zM32 19h1v1h-1zM33 19h1v1h-1zM0 20h1v1h-1zM8 20h1v1h-1zM25 20h1v1h-1zM5 21h1v1h-1zM12 21h1v1h-1zM19 21h1v1h-1zM32 21h1v1h-1zM3 22h1v1h-1zM18 22h1v1h-1zM22 22h1v1h-1zM27 22h1v1h-1zM35 22h1v1h-1zM25 23h1v1h-1zM7 24h1v1h-1zM14 24h1v1h-1zM16 24h1v1h-1zM32 24h1v1h-1zM34 24h1v1h-1zM2 25h1v1h-1zM5 25h1v1h-1zM8 25h1v1h-1zM9 25h1v1h-1zM14 25h1v1h-1zM16 25h1v1h-1zM30 25h1v1h-1zM0 26h1v1h-1zM5 26h1v1h-1zM11 26h1v1h-1zM15 26h1v1h-1zM16 26h1v1h-1zM18 26h1v1h-1zM22 26h1v1h-1zM0 27h1v1h-1zM2 27h1v1h-1zM7 27h1v1h-1zM8 27h1v1h-1zM10 27h1v1h-1zM12 27h1v1h-1zM14 27h1v1h-1zM15 27h1v1h-1zM18 27h1v1h-1zM22 27h1v1h-1zM26 27h1v1h-1zM27 27h1v1h-1zM34 27h1v1h-1zM13 28h1v1h-1zM19 28h1v1h-1zM20 28h1v1h-1zM26 28h1v1h-1zM32 28h1v1h-1zM34 28h1v1h-1zM14 29h1v1h-1zM15 29h1v1h-1zM18 29h1v1h-1zM23 29h1v1h-1zM24 29h1v1h-1zM33 29h1v1h-1zM34 29h1v1h-1zM35 29h1v1h-1zM2 30h1v1h-1zM12 30h1v1h-1zM13 30h1v1h-1zM14 30h1v1h-1zM15 30h1v1h-1zM20 30h1v1h-1zM25 30h1v1h-1zM27 30h1v1h-1zM31 30h1v1h-1zM32 30h1v1h-1zM2 31h1v1h-1zM4 31h1v1h-1zM5 31h1v1h-1zM15 31h1v1h-1zM20 31h1v1h-1zM25 31h1v1h-1zM1 32h1v1h-1zM7 32h1v1h-1zM23 32h1v1h-1zM27 32h1v1h-1zM29 32h1v1h-1zM35 32h1v1h-1zM15 33h1v1h-1zM22 33h1v1h-1zM24 33h1v1h-1zM26 33h1v1h-1zM27 33h1v1h-1zM2 34h1v1h-1zM17 34h1v1h-1zM35 34h1v1h-1zM2 35h1v1h-1zM7 35h1v1h-1zM9 35h1v1h-1zM15 35h1v1h-1zM21 35h1v1h-1zM25 35h1v1h-1zM28 35h1v1h-1z" fill="#3e4418" fill-opacity="0.55"/><path d="M6 0h1v1h-1zM20 0h1v1h-1zM24 0h1v1h-1zM25 0h1v1h-1zM31 0h1v1h-1zM2 1h1v1h-1zM5 1h1v1h-1zM7 1h1v1h-1zM18 1h1v1h-1zM24 1h1v1h-1zM33 1h1v1h-1zM7 2h1v1h-1zM14 2h1v1h-1zM25 2h1v1h-1zM31 2h1v1h-1zM2 3h1v1h-1zM3 3h1v1h-1zM5 3h1v1h-1zM6 3h1v1h-1zM30 3h1v1h-1zM34 3h1v1h-1zM5 4h1v1h-1zM6 4h1v1h-1zM12 4h1v1h-1zM13 4h1v1h-1zM19 4h1v1h-1zM24 4h1v1h-1zM25 4h1v1h-1zM28 4h1v1h-1zM34 4h1v1h-1zM3 5h1v1h-1zM7 5h1v1h-1zM10 5h1v1h-1zM17 5h1v1h-1zM21 5h1v1h-1zM24 5h1v1h-1zM33 5h1v1h-1zM2 6h1v1h-1zM13 7h1v1h-1zM17 7h1v1h-1zM18 7h1v1h-1zM22 7h1v1h-1zM23 7h1v1h-1zM24 7h1v1h-1zM30 7h1v1h-1zM7 8h1v1h-1zM19 8h1v1h-1zM26 8h1v1h-1zM1 9h1v1h-1zM12 9h1v1h-1zM25 9h1v1h-1zM34 9h1v1h-1zM0 10h1v1h-1zM14 10h1v1h-1zM23 10h1v1h-1zM3 11h1v1h-1zM29 11h1v1h-1zM33 11h1v1h-1zM35 11h1v1h-1zM9 12h1v1h-1zM32 12h1v1h-1zM0 13h1v1h-1zM2 13h1v1h-1zM17 13h1v1h-1zM28 13h1v1h-1zM31 13h1v1h-1zM3 14h1v1h-1zM4 14h1v1h-1zM14 14h1v1h-1zM26 14h1v1h-1zM29 14h1v1h-1zM32 14h1v1h-1zM2 15h1v1h-1zM5 15h1v1h-1zM6 15h1v1h-1zM10 15h1v1h-1zM12 15h1v1h-1zM21 15h1v1h-1zM26 15h1v1h-1zM33 15h1v1h-1zM2 16h1v1h-1zM12 16h1v1h-1zM22 16h1v1h-1zM24 16h1v1h-1zM29 16h1v1h-1zM33 16h1v1h-1zM2 17h1v1h-1zM3 17h1v1h-1zM14 17h1v1h-1zM15 17h1v1h-1zM27 17h1v1h-1zM33 17h1v1h-1zM3 18h1v1h-1zM10 18h1v1h-1zM13 18h1v1h-1zM22 18h1v1h-1zM30 18h1v1h-1zM34 18h1v1h-1zM0 19h1v1h-1zM5 19h1v1h-1zM7 19h1v1h-1zM24 19h1v1h-1zM25 19h1v1h-1zM3 20h1v1h-1zM15 20h1v1h-1zM17 20h1v1h-1zM34 20h1v1h-1zM35 20h1v1h-1zM8 21h1v1h-1zM13 21h1v1h-1zM14 21h1v1h-1zM16 21h1v1h-1zM34 21h1v1h-1zM5 22h1v1h-1zM10 22h1v1h-1zM23 22h1v1h-1zM3 23h1v1h-1zM8 23h1v1h-1zM10 23h1v1h-1zM34 23h1v1h-1zM1 24h1v1h-1zM2 24h1v1h-1zM15 24h1v1h-1zM17 24h1v1h-1zM18 24h1v1h-1zM27 24h1v1h-1zM33 24h1v1h-1zM17 25h1v1h-1zM25 25h1v1h-1zM2 26h1v1h-1zM4 26h1v1h-1zM10 26h1v1h-1zM20 26h1v1h-1zM25 26h1v1h-1zM27 26h1v1h-1zM28 26h1v1h-1zM34 26h1v1h-1zM3 27h1v1h-1zM16 27h1v1h-1zM24 27h1v1h-1zM25 27h1v1h-1zM9 28h1v1h-1zM23 28h1v1h-1zM35 28h1v1h-1zM5 29h1v1h-1zM9 29h1v1h-1zM12 29h1v1h-1zM30 29h1v1h-1zM8 30h1v1h-1zM16 30h1v1h-1zM24 30h1v1h-1zM0 31h1v1h-1zM3 31h1v1h-1zM16 31h1v1h-1zM21 31h1v1h-1zM27 31h1v1h-1zM34 31h1v1h-1zM35 31h1v1h-1zM10 32h1v1h-1zM12 32h1v1h-1zM17 32h1v1h-1zM21 32h1v1h-1zM30 32h1v1h-1zM34 32h1v1h-1zM9 33h1v1h-1zM11 33h1v1h-1zM31 33h1v1h-1zM32 33h1v1h-1zM33 33h1v1h-1zM35 33h1v1h-1zM4 34h1v1h-1zM15 34h1v1h-1zM18 34h1v1h-1zM22 34h1v1h-1zM1 35h1v1h-1zM11 35h1v1h-1zM22 35h1v1h-1zM30 35h1v1h-1zM35 35h1v1h-1z" fill="#b0a858" fill-opacity="0.5"/></pattern>
<linearGradient id="gFilt" x1="0" y1="0" x2="0" y2="1"><stop offset="0" stop-color="#f4f4f6"/><stop offset="0.4" stop-color="#eaeef8"/><stop offset="1" stop-color="#d4dcf6"/></linearGradient>
<linearGradient id="gRaw" x1="0" y1="0" x2="0" y2="1"><stop offset="0" stop-color="#4a3a28"/><stop offset="1" stop-color="#6a5a48"/></linearGradient>
</defs>
<polygon points="22,110 203,110 243,70 70,70" fill="url(#grass)" stroke="#111" stroke-width="1" stroke-linejoin="miter" stroke-miterlimit="3" />
<polygon points="22,110 203,110 243,70 70,70" fill="url(#nzG)" />
<polygon points="120,61 170,9 170,100 120,106" fill="url(#chkS)" stroke="#111" stroke-width="1" stroke-linejoin="miter" stroke-miterlimit="3" />
<polygon points="35,60 84.2,8.3 170,8.3 120,60" fill="url(#chkR)" stroke="#111" stroke-width="1" stroke-linejoin="miter" stroke-miterlimit="3" />
<polygon points="84.2,8.3 170,8.3 168,13 86,13" fill="#48481e" stroke="#222" stroke-width="1" stroke-linejoin="miter" stroke-miterlimit="3" />
<polygon points="35,60 84.2,8.3 88,11 40,60" fill="#48481e" stroke="#222" stroke-width="1" stroke-linejoin="miter" stroke-miterlimit="3" />
<line x1="121.5" y1="60.5" x2="170" y2="11" stroke="#111" stroke-width="4.5" shape-rendering="auto"/>
<line x1="121.5" y1="60.5" x2="170" y2="11" stroke="#f8f8f8" stroke-width="2.2" shape-rendering="auto"/>
<rect x="35" y="60" width="85" height="46" fill="url(#chkL)" stroke="#111" stroke-width="1" />
<rect x="35.5" y="60.5" width="84" height="3" fill="#f8f8f8" />
<rect x="35" y="104" width="85" height="2.5" fill="#1a1a1a" />
<rect x="42.4" y="71.3" width="30.6" height="4.8" fill="#a4a4a4" stroke="#333" stroke-width="1" />
<rect x="80" y="71.3" width="30.6" height="4.8" fill="#a4a4a4" stroke="#333" stroke-width="1" />
<rect x="100.6" y="90.8" width="8.9" height="14.5" fill="#2a2a2a" stroke="#111" stroke-width="1" />
<path d="M156 36.2 L204 36.2 Q208 36.2 208 40 L208 46" fill="none" stroke="#1a1a0a" stroke-width="6.4" shape-rendering="auto"/>
<path d="M156 36.2 L204 36.2 Q208 36.2 208 40 L208 46" fill="none" stroke="#4c4e28" stroke-width="4.4" shape-rendering="auto"/>
<rect x="157" y="34.5" width="46" height="1.2" fill="#8a8c5a" />
<rect x="154" y="47.4" width="42" height="4.5" rx="2" fill="#4c4e28" stroke="#1a1a0a" stroke-width="1" shape-rendering="auto"/>
<rect x="156" y="48.4" width="38" height="1.2" fill="#8a8c5a" />
<rect x="140.5" y="66.6" width="57.5" height="6" rx="2" fill="#4c4e28" stroke="#1a1a0a" stroke-width="1" shape-rendering="auto"/>
<rect x="142.5" y="67.6" width="53.5" height="1.2" fill="#8a8c5a" />
<rect x="123.5" y="90" width="26.5" height="5.4" rx="2" fill="#4c4e28" stroke="#1a1a0a" stroke-width="1" shape-rendering="auto"/>
<rect x="125.5" y="91" width="22.5" height="1.2" fill="#8a8c5a" />
<rect x="150" y="80" width="64" height="5" rx="2" fill="#4c4e28" stroke="#1a1a0a" stroke-width="1" shape-rendering="auto"/>
<rect x="152" y="81" width="60" height="1.2" fill="#8a8c5a" />
<g shape-rendering="auto">
<rect x="195.6" y="51.2" width="17.900000000000006" height="36.8" fill="url(#silo)" stroke="#111" stroke-width="1.2"/>
<rect x="196.6" y="52.2" width="2" height="27.799999999999997" fill="#c4c4cc"/>
<rect x="210.5" y="52.2" width="2" height="27.799999999999997" fill="#b4b4bc"/>
<rect x="195.6" y="81" width="17.900000000000006" height="7" fill="#d4d8f4" stroke="#111" stroke-width="1.2"/>
<rect x="198.1" y="81" width="1.6" height="7" fill="#1a1a2a"/>
<rect x="202.0" y="81" width="1.6" height="7" fill="#1a1a2a"/>
<rect x="205.9" y="81" width="1.6" height="7" fill="#1a1a2a"/>
<rect x="209.8" y="81" width="1.6" height="7" fill="#1a1a2a"/>
<rect x="196.1" y="44.2" width="16.900000000000006" height="7.5" rx="3" fill="#ececd8" stroke="#111" stroke-width="1.2"/>
<rect x="198.1" y="46.7" width="12.900000000000006" height="3" fill="url(#capd)"/>
<rect x="195.6" y="51.7" width="17.900000000000006" height="1.8" fill="#8a8a8a"/>
</g>
<g shape-rendering="auto">
<rect x="160.8" y="50" width="17.69999999999999" height="35" fill="url(#silo)" stroke="#111" stroke-width="1.2"/>
<rect x="161.8" y="51" width="2" height="26" fill="#c4c4cc"/>
<rect x="175.5" y="51" width="2" height="26" fill="#b4b4bc"/>
<rect x="160.8" y="78" width="17.69999999999999" height="7" fill="#d4d8f4" stroke="#111" stroke-width="1.2"/>
<rect x="163.3" y="78" width="1.6" height="7" fill="#1a1a2a"/>
<rect x="167.1" y="78" width="1.6" height="7" fill="#1a1a2a"/>
<rect x="171.0" y="78" width="1.6" height="7" fill="#1a1a2a"/>
<rect x="174.8" y="78" width="1.6" height="7" fill="#1a1a2a"/>
<rect x="161.3" y="43" width="16.69999999999999" height="7.5" rx="3" fill="#ececd8" stroke="#111" stroke-width="1.2"/>
<rect x="163.3" y="45.5" width="12.699999999999989" height="3" fill="url(#capd)"/>
<rect x="160.8" y="50.5" width="17.69999999999999" height="1.8" fill="#8a8a8a"/>
</g>
<g shape-rendering="auto">
<rect x="187" y="60.8" width="18.599999999999994" height="36.2" fill="url(#silo)" stroke="#111" stroke-width="1.2"/>
<rect x="188" y="61.8" width="2" height="27.200000000000003" fill="#c4c4cc"/>
<rect x="202.6" y="61.8" width="2" height="27.200000000000003" fill="#b4b4bc"/>
<rect x="187" y="90" width="18.599999999999994" height="7" fill="#d4d8f4" stroke="#111" stroke-width="1.2"/>
<rect x="189.5" y="90" width="1.6" height="7" fill="#1a1a2a"/>
<rect x="193.6" y="90" width="1.6" height="7" fill="#1a1a2a"/>
<rect x="197.7" y="90" width="1.6" height="7" fill="#1a1a2a"/>
<rect x="201.9" y="90" width="1.6" height="7" fill="#1a1a2a"/>
<rect x="187.5" y="53.8" width="17.599999999999994" height="7.5" rx="3" fill="#ececd8" stroke="#111" stroke-width="1.2"/>
<rect x="189.5" y="56.3" width="13.599999999999994" height="3" fill="url(#capd)"/>
<rect x="187" y="61.3" width="18.599999999999994" height="1.8" fill="#8a8a8a"/>
</g>
<g shape-rendering="auto">
<rect x="152" y="60.8" width="18" height="34.2" fill="url(#silo)" stroke="#111" stroke-width="1.2"/>
<rect x="153" y="61.8" width="2" height="25.200000000000003" fill="#c4c4cc"/>
<rect x="167" y="61.8" width="2" height="25.200000000000003" fill="#b4b4bc"/>
<rect x="152" y="88" width="18" height="7" fill="#d4d8f4" stroke="#111" stroke-width="1.2"/>
<rect x="154.5" y="88" width="1.6" height="7" fill="#1a1a2a"/>
<rect x="158.4" y="88" width="1.6" height="7" fill="#1a1a2a"/>
<rect x="162.4" y="88" width="1.6" height="7" fill="#1a1a2a"/>
<rect x="166.3" y="88" width="1.6" height="7" fill="#1a1a2a"/>
<rect x="152.5" y="53.8" width="17" height="7.5" rx="3" fill="#ececd8" stroke="#111" stroke-width="1.2"/>
<rect x="154.5" y="56.3" width="13" height="3" fill="url(#capd)"/>
<rect x="152" y="61.3" width="18" height="1.8" fill="#8a8a8a"/>
</g>
<g shape-rendering="auto">
<rect x="178.6" y="71.1" width="18.900000000000006" height="35.10000000000001" fill="url(#silo)" stroke="#111" stroke-width="1.2"/>
<rect x="179.6" y="72.1" width="2" height="26.10000000000001" fill="#c4c4cc"/>
<rect x="194.5" y="72.1" width="2" height="26.10000000000001" fill="#b4b4bc"/>
<rect x="178.6" y="99.2" width="18.900000000000006" height="7" fill="#d4d8f4" stroke="#111" stroke-width="1.2"/>
<rect x="181.1" y="99.2" width="1.6" height="7" fill="#1a1a2a"/>
<rect x="185.3" y="99.2" width="1.6" height="7" fill="#1a1a2a"/>
<rect x="189.5" y="99.2" width="1.6" height="7" fill="#1a1a2a"/>
<rect x="193.7" y="99.2" width="1.6" height="7" fill="#1a1a2a"/>
<rect x="179.1" y="64.1" width="17.900000000000006" height="7.5" rx="3" fill="#ececd8" stroke="#111" stroke-width="1.2"/>
<rect x="181.1" y="66.6" width="13.900000000000006" height="3" fill="url(#capd)"/>
<rect x="178.6" y="71.6" width="18.900000000000006" height="1.8" fill="#8a8a8a"/>
</g>
<g shape-rendering="auto">
<rect x="144.7" y="70.1" width="18.30000000000001" height="33.49999999999999" fill="url(#silo)" stroke="#111" stroke-width="1.2"/>
<rect x="145.7" y="71.1" width="2" height="24.499999999999993" fill="#c4c4cc"/>
<rect x="160" y="71.1" width="2" height="24.499999999999993" fill="#b4b4bc"/>
<rect x="144.7" y="96.6" width="18.30000000000001" height="7" fill="#d4d8f4" stroke="#111" stroke-width="1.2"/>
<rect x="147.2" y="96.6" width="1.6" height="7" fill="#1a1a2a"/>
<rect x="151.2" y="96.6" width="1.6" height="7" fill="#1a1a2a"/>
<rect x="155.3" y="96.6" width="1.6" height="7" fill="#1a1a2a"/>
<rect x="159.3" y="96.6" width="1.6" height="7" fill="#1a1a2a"/>
<rect x="145.2" y="63.1" width="17.30000000000001" height="7.5" rx="3" fill="#ececd8" stroke="#111" stroke-width="1.2"/>
<rect x="147.2" y="65.6" width="13.300000000000011" height="3" fill="url(#capd)"/>
<rect x="144.7" y="70.6" width="18.30000000000001" height="1.8" fill="#8a8a8a"/>
</g>
<text x="180" y="23.6" font-size="11" font-weight="bold" fill="#111" text-anchor="start" textLength="120" lengthAdjust="spacing" stroke="#111" stroke-width="0.6">Primary treatment</text>
<polygon points="112.2,114 126.5,114 126.5,133.6 136,133.6 119.8,149.4 105,133.6 112.2,133.6" fill="#f23614" stroke="#3a0a04" stroke-width="1.3" stroke-linejoin="miter" stroke-miterlimit="3" />
<text x="20.5" y="139" font-size="10.5" font-weight="normal" fill="#111" text-anchor="start" textLength="71" lengthAdjust="spacing" >Raw sewage</text>
<rect x="15" y="145.5" width="78" height="1" fill="#111" />
<path d="M12 156 L16 150 L24 148 L34 147 L40 146 L41 143 L46 143 L47 146 L60 146 L60 143 L66 143 L67 146 L80 147 L92 147 L80 161 L9 161 Z" fill="#2a2016"/>
<path d="M12 156 L16 150 L24 148 L34 147 L40 146 L41 143 L46 143 L47 146 L60 146 L60 143 L66 143 L67 146 L80 147 L92 147 L80 161 L9 161 Z" fill="url(#nzC)"/>
<rect x="9" y="161" width="70" height="3.5" fill="#c4c0b4" />
<rect x="9" y="161" width="70" height="3.5" fill="url(#nz)" />
<rect x="9" y="164.5" width="70" height="1.5" fill="#222" />
<polygon points="88,147 93,147 80,166 78,166 78,161" fill="#4a4a2a" stroke="#222" stroke-width="1" stroke-linejoin="miter" stroke-miterlimit="3" />
<rect x="18.8" y="165" width="56" height="2.5" fill="#1a1a1a" />
<circle cx="25.4" cy="172.5" r="5.8" fill="#9a9a9a" stroke="#111" stroke-width="1.2" shape-rendering="auto"/>
<circle cx="25.4" cy="172.5" r="2.3" fill="#222" shape-rendering="auto"/>
<circle cx="62.3" cy="172.5" r="5.8" fill="#9a9a9a" stroke="#111" stroke-width="1.2" shape-rendering="auto"/>
<circle cx="62.3" cy="172.5" r="2.3" fill="#222" shape-rendering="auto"/>
<polygon points="21.4,184.3 25.7,184.3 25.7,193 31,193 31,188 36.9,195 31,202 31,197.5 21.4,197.5" fill="url(#garr)" stroke="#111" stroke-width="1" stroke-linejoin="miter" stroke-miterlimit="3" />
<polygon points="41.7,193.8 47.900000000000006,187.7 130,187.7 123.8,193.8" fill="#5a5a32" stroke="#111" stroke-width="1" stroke-linejoin="miter" stroke-miterlimit="3" />
<polygon points="123.8,193.8 130,187.7 130,213.89999999999998 123.8,220" fill="#2e2a18" stroke="#111" stroke-width="1" stroke-linejoin="miter" stroke-miterlimit="3" />
<rect x="41.7" y="193.8" width="82.1" height="26.19999999999999" fill="url(#gBrownDark)" stroke="#111" stroke-width="1" />
<rect x="42.7" y="194.8" width="80.1" height="24.19999999999999" fill="url(#nzB)" />
<text x="44.8" y="232.3" font-size="10.5" font-weight="normal" fill="#111" text-anchor="start" textLength="76" lengthAdjust="spacing" >Grit chamber</text>
<polygon points="76.1,239.8 80.9,239.8 80.9,283.3 84.9,283.3 78.5,290.3 72.1,283.3 76.1,283.3" fill="url(#bgray)" stroke="#111" stroke-width="1" stroke-linejoin="miter" stroke-miterlimit="3" />
<text x="55" y="302.5" font-size="10.5" font-weight="normal" fill="#111" text-anchor="start" textLength="45" lengthAdjust="spacing" >Land fill</text>
<polygon points="135.1,189.3 143.20000000000002,189.3 143.20000000000002,185.7 148.8,192 143.20000000000002,198.3 143.20000000000002,194.7 135.1,194.7" fill="url(#garr)" stroke="#111" stroke-width="1" stroke-linejoin="miter" stroke-miterlimit="3" />
<text x="145" y="130.6" font-size="11" font-weight="normal" fill="#111" text-anchor="start" textLength="80" lengthAdjust="spacing" >Sedimentation</text>
<text x="174" y="142.3" font-size="10.5" font-weight="normal" fill="#111" text-anchor="start" textLength="24" lengthAdjust="spacing" >tank</text>
<g shape-rendering="auto">
<path d="M155.5 155 L155.5 197 A27 6 0 0 0 209.5 197 L209.5 155 Z" fill="url(#gTank)" stroke="#111" stroke-width="1.2"/>
<path d="M156.5 156 L156.5 182 L208.5 182 L208.5 156 Z" fill="url(#nzB)"/>
<path d="M156.5 182 L156.5 197 A26 5 0 0 0 208.5 197 L208.5 182 Z" fill="url(#nz)"/>
<ellipse cx="182.5" cy="156" rx="27" ry="9" fill="#8a7a5a" stroke="#111" stroke-width="1.2"/>
<ellipse cx="182.5" cy="154" rx="26" ry="7.5" fill="url(#olv)" stroke="#222" stroke-width="1"/>
</g>
<polygon points="180.10000000000002,206 186.5,206 186.5,217.29999999999998 189.70000000000002,217.29999999999998 183.3,223.6 176.9,217.29999999999998 180.10000000000002,217.29999999999998" fill="url(#darr)" stroke="#111" stroke-width="1" stroke-linejoin="miter" stroke-miterlimit="3" />
<polygon points="213.5,149.8 251,149.8 251,132.8 260.5,132.8 260.5,129.2 265.6,135.3 260.5,141.3 260.5,137.8 255.7,137.8 255.7,163.3 260.5,163.3 260.5,160.5 265.6,165.8 260.5,171.5 260.5,168.3 251,168.3 251,155.2 213.5,155.2" fill="url(#garr)" stroke="#111" stroke-width="1" stroke-linejoin="miter" stroke-miterlimit="3" />
<polygon points="136.4,232 140.6,226.4 230.7,226.4 226.5,232" fill="#4e4a2a" stroke="#111" stroke-width="1" stroke-linejoin="miter" stroke-miterlimit="3" />
<polygon points="226.5,232 230.7,226.4 230.7,239.20000000000002 226.5,244.8" fill="#2e2614" stroke="#111" stroke-width="1" stroke-linejoin="miter" stroke-miterlimit="3" />
<rect x="136.4" y="232" width="90.1" height="12.800000000000011" fill="url(#gThick)" stroke="#111" stroke-width="1" />
<rect x="137.4" y="233" width="88.1" height="10.800000000000011" fill="url(#nzB)" />
<text x="154.6" y="258.2" font-size="10.5" font-weight="normal" fill="#111" text-anchor="start" textLength="55.4" lengthAdjust="spacing" >Thickener</text>
<polygon points="136.4,269 140.6,263.3 230.7,263.3 226.5,269" fill="#4e4a2a" stroke="#111" stroke-width="1" stroke-linejoin="miter" stroke-miterlimit="3" />
<polygon points="226.5,269 230.7,263.3 230.7,277.5 226.5,283.2" fill="#2e2614" stroke="#111" stroke-width="1" stroke-linejoin="miter" stroke-miterlimit="3" />
<rect x="136.4" y="269" width="90.1" height="14.199999999999989" fill="url(#gThick)" stroke="#111" stroke-width="1" />
<rect x="137.4" y="270" width="88.1" height="12.199999999999989" fill="url(#nzB)" />
<text x="157.4" y="294.6" font-size="10.5" font-weight="normal" fill="#111" text-anchor="start" textLength="47.6" lengthAdjust="spacing" >Digester</text>
<g shape-rendering="auto"><ellipse cx="181.7" cy="313.3" rx="26.4" ry="12" fill="url(#gDry)" stroke="#111" stroke-width="1.4"/><ellipse cx="181.7" cy="313.3" rx="25" ry="10.8" fill="url(#nz)"/><path d="M164 304.5 Q181.7 299 199.5 304.5" fill="none" stroke="#1a1a30" stroke-width="2.2"/></g>
<text x="148.6" y="338.2" font-size="10.5" font-weight="normal" fill="#111" text-anchor="start" textLength="68.6" lengthAdjust="spacing" >Drying beds</text>
<polygon points="178.0,345 184.60000000000002,345 184.60000000000002,352.2 187.8,352.2 181.3,358.7 174.8,352.2 178.0,352.2" fill="url(#darr)" stroke="#111" stroke-width="1" stroke-linejoin="miter" stroke-miterlimit="3" />
<text x="137" y="370.9" font-size="10.5" font-weight="normal" fill="#111" text-anchor="start" textLength="88.9" lengthAdjust="spacing" >Soil conditioner</text>
<text x="155" y="384.1" font-size="11.5" font-weight="normal" fill="#111" text-anchor="start" textLength="50.6" lengthAdjust="spacing" stroke="#111" stroke-width="0.3">Fertilizer</text>
<rect x="157" y="386" width="6" height="1" fill="#333" />
<text x="129.8" y="407" font-size="10.5" font-weight="normal" fill="#111" text-anchor="start" textLength="32.4" lengthAdjust="spacing" >land fill</text>
<polygon points="198.6,209.8 205,204.2 205,207.4 409.4,207.4 409.4,192.9 416.5,192.9 416.5,212.4 205,212.4 205,216.7" fill="url(#teal)" stroke="#111" stroke-width="1.4" stroke-linejoin="miter" stroke-miterlimit="3" />
<text x="256.5" y="225" font-size="10.5" font-weight="normal" fill="#111" text-anchor="start" textLength="90.2" lengthAdjust="spacing" >Sludge removal</text>
<text x="280" y="103.9" font-size="10.5" font-weight="normal" fill="#111" text-anchor="start" textLength="80.4" lengthAdjust="spacing" >Aeration tank</text>
<text x="266" y="117.2" font-size="10.5" font-weight="normal" fill="#111" text-anchor="start" textLength="107.2" lengthAdjust="spacing" >(Activated sludge)</text>
<polygon points="271,128.3 275.2,122.7 365.4,122.7 361.2,128.3" fill="#3a3420" stroke="#111" stroke-width="1" stroke-linejoin="miter" stroke-miterlimit="3" />
<polygon points="361.2,128.3 365.4,122.7 365.4,141.3 361.2,146.9" fill="#1e1a10" stroke="#111" stroke-width="1" stroke-linejoin="miter" stroke-miterlimit="3" />
<rect x="271" y="128.3" width="90.19999999999999" height="18.599999999999994" fill="url(#gAer)" stroke="#111" stroke-width="1" />
<rect x="272" y="129.3" width="88.19999999999999" height="16.599999999999994" fill="url(#nzB)" />
<polygon points="271,159.3 275.2,154.4 365.4,154.4 361.2,159.3" fill="#3a3420" stroke="#111" stroke-width="1" stroke-linejoin="miter" stroke-miterlimit="3" />
<polygon points="361.2,159.3 365.4,154.4 365.4,173.29999999999998 361.2,178.2" fill="#1e1a10" stroke="#111" stroke-width="1" stroke-linejoin="miter" stroke-miterlimit="3" />
<rect x="271" y="159.3" width="90.19999999999999" height="18.899999999999977" fill="url(#gAer)" stroke="#111" stroke-width="1" />
<rect x="272" y="160.3" width="88.19999999999999" height="16.899999999999977" fill="url(#nzB)" />
<rect x="272" y="129.3" width="20" height="16.6" fill="url(#nz)" />
<rect x="292" y="129.3" width="10" height="16.6" fill="url(#nz)" opacity="0.6"/>
<rect x="302" y="129.3" width="10" height="16.6" fill="url(#nz)" opacity="0.3"/>
<rect x="272" y="160.3" width="20" height="16.9" fill="url(#nz)" />
<rect x="292" y="160.3" width="10" height="16.9" fill="url(#nz)" opacity="0.6"/>
<rect x="302" y="160.3" width="10" height="16.9" fill="url(#nz)" opacity="0.3"/>
<text x="274.4" y="189.9" font-size="10.5" font-weight="normal" fill="#111" text-anchor="start" textLength="83.2" lengthAdjust="spacing" >Trickling filter</text>
<polygon points="370,135.3 377.9,135.3 377.9,131.0 385.9,137.5 377.9,144.0 377.9,139.7 370,139.7" fill="url(#garr)" stroke="#111" stroke-width="1" stroke-linejoin="miter" stroke-miterlimit="3" />
<polygon points="370,166.0 377.9,166.0 377.9,161.8 385.9,168.3 377.9,174.8 377.9,170.60000000000002 370,170.60000000000002" fill="url(#garr)" stroke="#111" stroke-width="1" stroke-linejoin="miter" stroke-miterlimit="3" />
<text x="395" y="117.7" font-size="10.5" font-weight="normal" fill="#111" text-anchor="start" textLength="45.3" lengthAdjust="spacing" >Clarifier</text>
<polygon points="389.5,127.8 395.5,122.5 443.3,122.5 437.3,127.8" fill="#2e2a18" stroke="#111" stroke-width="1" stroke-linejoin="miter" stroke-miterlimit="3" />
<polygon points="437.3,127.8 443.3,122.5 443.3,142.2 437.3,147.5" fill="#4a4028" stroke="#111" stroke-width="1" stroke-linejoin="miter" stroke-miterlimit="3" />
<rect x="389.5" y="127.8" width="47.80000000000001" height="19.700000000000003" fill="url(#gClar)" stroke="#111" stroke-width="1" />
<rect x="390.5" y="128.8" width="45.80000000000001" height="17.700000000000003" fill="url(#nzB)" />
<polygon points="389.5,158.9 395.5,154.4 443.3,154.4 437.3,158.9" fill="#2e2a18" stroke="#111" stroke-width="1" stroke-linejoin="miter" stroke-miterlimit="3" />
<polygon points="437.3,158.9 443.3,154.4 443.3,173.3 437.3,177.8" fill="#4a4028" stroke="#111" stroke-width="1" stroke-linejoin="miter" stroke-miterlimit="3" />
<rect x="389.5" y="158.9" width="47.80000000000001" height="18.900000000000006" fill="url(#gClar)" stroke="#111" stroke-width="1" />
<rect x="390.5" y="159.9" width="45.80000000000001" height="16.900000000000006" fill="url(#nzB)" />
<text x="390.4" y="190" font-size="10.5" font-weight="normal" fill="#111" text-anchor="start" textLength="45.6" lengthAdjust="spacing" >Clarifier</text>
<polygon points="447.7,130.4 468,130.4 468,127.8 473,133.7 468,139.5 468,137 463.9,137 463.9,167.4 447.7,167.4 447.7,163.5 460,163.5 460,137 447.7,137" fill="url(#teal)" stroke="#111" stroke-width="1.4" stroke-linejoin="miter" stroke-miterlimit="3" />
<text x="478.2" y="113" font-size="10.5" font-weight="normal" fill="#111" text-anchor="start" textLength="67.8" lengthAdjust="spacing" >Chlorination</text>
<polygon points="476.7,121 480.09999999999997,117.2 544.4,117.2 541,121" fill="#a0a0a4" stroke="#111" stroke-width="1" stroke-linejoin="miter" stroke-miterlimit="3" />
<polygon points="541,121 544.4,117.2 544.4,143.39999999999998 541,147.2" fill="#c0c0c8" stroke="#111" stroke-width="1" stroke-linejoin="miter" stroke-miterlimit="3" />
<rect x="476.7" y="121" width="64.30000000000001" height="26.19999999999999" fill="url(#gChl)" stroke="#111" stroke-width="1" />
<rect x="477.7" y="122" width="62.30000000000001" height="24.19999999999999" fill="url(#nz)" />
<polygon points="549.4,128.7 575.5,128.7 575.5,125.7 582.5,131 575.5,136.3 575.5,133.3 549.4,133.3" fill="url(#bgray)" stroke="#111" stroke-width="1" stroke-linejoin="miter" stroke-miterlimit="3" />
<text x="573.6" y="71.1" font-size="10.5" font-weight="normal" fill="#111" text-anchor="start" textLength="52.1" lengthAdjust="spacing" >Ammonia</text>
<text x="576" y="83.4" font-size="10.5" font-weight="normal" fill="#111" text-anchor="start" textLength="49.7" lengthAdjust="spacing" >stripping</text>
<text x="639.5" y="58.9" font-size="10.5" font-weight="normal" fill="#111" text-anchor="start" textLength="53" lengthAdjust="spacing" >Activated</text>
<text x="647" y="71" font-size="10.5" font-weight="normal" fill="#111" text-anchor="start" textLength="39.4" lengthAdjust="spacing" >carbon</text>
<text x="635.5" y="83.4" font-size="10.5" font-weight="normal" fill="#111" text-anchor="start" textLength="61.3" lengthAdjust="spacing" >absorption</text>
<polygon points="586.8,94.2 591.1999999999999,90.7 616.4,90.7 612,94.2" fill="#6a5a40" stroke="#111" stroke-width="1" stroke-linejoin="miter" stroke-miterlimit="3" />
<polygon points="612,94.2 616.4,90.7 616.4,149.9 612,153.4" fill="url(#gAmmS)" stroke="#111" stroke-width="1" stroke-linejoin="miter" stroke-miterlimit="3" />
<rect x="586.8" y="94.2" width="25.200000000000045" height="59.2" fill="url(#gAmm)" stroke="#111" stroke-width="1" />
<rect x="587.8" y="95.2" width="23.200000000000045" height="57.2" fill="url(#nz)" />
<polygon points="649.7,94.2 654.1,90.7 678.6,90.7 674.2,94.2" fill="#6a5a40" stroke="#111" stroke-width="1" stroke-linejoin="miter" stroke-miterlimit="3" />
<polygon points="674.2,94.2 678.6,90.7 678.6,149.9 674.2,153.4" fill="url(#gCarbS)" stroke="#111" stroke-width="1" stroke-linejoin="miter" stroke-miterlimit="3" />
<rect x="649.7" y="94.2" width="24.5" height="59.2" fill="url(#gCarb)" stroke="#111" stroke-width="1" />
<rect x="650.7" y="95.2" width="22.5" height="57.2" fill="url(#nz)" />
<polygon points="525,162.2 595.3,162.2 595.3,157 600.8,157 600.8,162.2 660.4,162.2 660.4,157 666,157 666,224 669.8,224 663.2,230.5 656.8,224 660.4,224 660.4,167.3 534,167.3 534,168.5 528.6,174.5 523.2,168.5 525,168.5" fill="url(#bgray)" stroke="#111" stroke-width="1.4" stroke-linejoin="miter" stroke-miterlimit="3" />
<g shape-rendering="auto">
<ellipse cx="529.5" cy="186.2" rx="26" ry="11" fill="none" stroke="#f8f8f8" stroke-width="1.2"/>
<ellipse cx="528.4" cy="187" rx="26.4" ry="11.5" fill="url(#gEllP)" stroke="#111" stroke-width="1.3"/>
<ellipse cx="528.4" cy="187" rx="25" ry="10.3" fill="url(#nz)"/>
<ellipse cx="611" cy="186.2" rx="26" ry="11" fill="none" stroke="#f8f8f8" stroke-width="1.2"/>
<ellipse cx="610.1" cy="187" rx="26.4" ry="11.5" fill="url(#gEllD)" stroke="#111" stroke-width="1.3"/>
<ellipse cx="610.1" cy="187" rx="25" ry="10.3" fill="url(#nz)"/>
</g>
<text x="490.6" y="211.6" font-size="10.5" font-weight="normal" fill="#111" text-anchor="start" textLength="72.5" lengthAdjust="spacing" >Precipitation</text>
<text x="571.3" y="211.6" font-size="10.5" font-weight="normal" fill="#111" text-anchor="start" textLength="82.9" lengthAdjust="spacing" >Denitrification</text>
<polygon points="525.3,216.5 529.7,216.5 529.7,223.8 534.0,223.8 527.5,230.8 521.0,223.8 525.3,223.8" fill="url(#darr)" stroke="#111" stroke-width="1" stroke-linejoin="miter" stroke-miterlimit="3" />
<polygon points="606.8,216.5 611.2,216.5 611.2,223.8 615.5,223.8 609,230.8 602.5,223.8 606.8,223.8" fill="url(#darr)" stroke="#111" stroke-width="1" stroke-linejoin="miter" stroke-miterlimit="3" />
<polygon points="509.5,239 514.9,235 679.8,235 674.4,239" fill="#ececec" stroke="#111" stroke-width="1" stroke-linejoin="miter" stroke-miterlimit="3" />
<polygon points="674.4,239 679.8,235 679.8,250.5 674.4,254.5" fill="#d8d8e0" stroke="#111" stroke-width="1" stroke-linejoin="miter" stroke-miterlimit="3" />
<rect x="509.5" y="239" width="164.89999999999998" height="15.5" fill="url(#gFilt)" stroke="#111" stroke-width="1" />
<rect x="510.5" y="240" width="162.89999999999998" height="13.5" fill="url(#nzF)" />
<polygon points="505,243.5 496.5,243.5 496.5,239.5 489.5,245.5 496.5,251.5 496.5,247.5 505,247.5" fill="url(#dteal)" stroke="#111" stroke-width="1" stroke-linejoin="miter" stroke-miterlimit="3" />
<polygon points="682.3,240.39999999999998 690.5,240.39999999999998 690.5,236.39999999999998 697.5,242.2 690.5,248.0 690.5,244.0 682.3,244.0" fill="url(#darr)" stroke="#111" stroke-width="1" stroke-linejoin="miter" stroke-miterlimit="3" />
<text x="571.3" y="267.4" font-size="10.5" font-weight="normal" fill="#111" text-anchor="start" textLength="33.8" lengthAdjust="spacing" >Filters</text>
<polygon points="586.2,272.4 591.9,272.4 591.9,293.6 594,293.6 594,290.5 601.8,296.4 594,302.3 594,299.2 586.2,299.2" fill="url(#darr)" stroke="#111" stroke-width="1.4" stroke-linejoin="miter" stroke-miterlimit="3" />
<text x="605" y="300.5" font-size="10.5" font-weight="normal" fill="#111" text-anchor="start" textLength="50" lengthAdjust="spacing" stroke="#111" stroke-width="0.35">Released</text>
<polygon points="383,88 503,88 544,46.3 430,46.3" fill="url(#grass3)" stroke="#111" stroke-width="1" stroke-linejoin="miter" stroke-miterlimit="3" />
<polygon points="383,88 503,88 544,46.3 430,46.3" fill="url(#nzG)" />
<polygon points="396.1,56.8 424,29.2 499.4,29.2 471.2,56.8" fill="url(#chkR)" stroke="#111" stroke-width="1" stroke-linejoin="miter" stroke-miterlimit="3" />
<polygon points="471.2,56.8 499.4,29.2 499.4,57 471.2,80" fill="url(#chkS)" stroke="#111" stroke-width="1" stroke-linejoin="miter" stroke-miterlimit="3" />
<rect x="491.3" y="42.3" width="4" height="20" fill="#1a1a1a" />
<line x1="472" y1="56.5" x2="499" y2="30" stroke="#f0f0f0" stroke-width="1.6" shape-rendering="auto"/>
<rect x="396.1" y="56.8" width="75.1" height="23.5" fill="url(#chkL)" stroke="#111" stroke-width="1" />
<rect x="399.2" y="61.4" width="21.1" height="7.1" fill="#a4a4a4" stroke="#111" stroke-width="1" />
<rect x="422.3" y="61.4" width="23.2" height="7.1" fill="#a4a4a4" stroke="#111" stroke-width="1" />
<rect x="447.5" y="61.4" width="19.2" height="7.1" fill="#a4a4a4" stroke="#111" stroke-width="1" />
<g shape-rendering="auto">
<line x1="411" y1="47" x2="441" y2="24" stroke="#111" stroke-width="12.5" stroke-linecap="round"/>
<line x1="411" y1="47" x2="441" y2="24" stroke="#42471e" stroke-width="10.5" stroke-linecap="round"/>
<line x1="412.5" y1="44.5" x2="440" y2="21.5" stroke="#5e6432" stroke-width="2"/>
<ellipse cx="410" cy="48" rx="5.5" ry="6" fill="#b0b0a0" stroke="#111" stroke-width="1"/>
<line x1="446" y1="47" x2="473" y2="24" stroke="#111" stroke-width="12.5" stroke-linecap="round"/>
<line x1="446" y1="47" x2="473" y2="24" stroke="#42471e" stroke-width="10.5" stroke-linecap="round"/>
<line x1="447.5" y1="44.5" x2="472" y2="21.5" stroke="#5e6432" stroke-width="2"/>
<ellipse cx="445" cy="48" rx="5.5" ry="6" fill="#b0b0a0" stroke="#111" stroke-width="1"/>
<line x1="461" y1="46" x2="488" y2="24" stroke="#111" stroke-width="12.5" stroke-linecap="round"/>
<line x1="461" y1="46" x2="488" y2="24" stroke="#42471e" stroke-width="10.5" stroke-linecap="round"/>
<line x1="462.5" y1="43.5" x2="487" y2="21.5" stroke="#5e6432" stroke-width="2"/>
<ellipse cx="460" cy="47" rx="5.5" ry="6" fill="#b0b0a0" stroke="#111" stroke-width="1"/>
</g>
<rect x="410.2" y="40.2" width="3.6" height="41.4" fill="#1a1a1a" />
<rect x="444.9" y="40.2" width="3.6" height="41.4" fill="#1a1a1a" />
<rect x="459.6" y="40.2" width="3.6" height="41.4" fill="#1a1a1a" />
<rect x="479.8" y="61.4" width="22.6" height="1.8" fill="#222" />
<rect x="479.8" y="64.6" width="22.6" height="1.8" fill="#222" />
<g shape-rendering="auto">
<rect x="509.5" y="45.3" width="18.100000000000023" height="16.1" rx="2" fill="url(#silo)" stroke="#111" stroke-width="1.2"/>
<rect x="510.0" y="42.3" width="17.100000000000023" height="6" rx="3" fill="#d8d8c0" stroke="#111" stroke-width="1.1"/>
<rect x="511.5" y="44.3" width="14.100000000000023" height="2.5" fill="url(#capd)"/>
<rect x="509.5" y="48.3" width="18.100000000000023" height="1.5" fill="#8a8a8a"/>
</g>
<g shape-rendering="auto">
<rect x="501.4" y="56.3" width="15.100000000000023" height="16.200000000000003" rx="2" fill="url(#silo)" stroke="#111" stroke-width="1.2"/>
<rect x="501.9" y="53.3" width="14.100000000000023" height="6" rx="3" fill="#d8d8c0" stroke="#111" stroke-width="1.1"/>
<rect x="503.4" y="55.3" width="11.100000000000023" height="2.5" fill="url(#capd)"/>
<rect x="501.4" y="59.3" width="15.100000000000023" height="1.5" fill="#8a8a8a"/>
</g>
<text x="536.7" y="22.7" font-size="11" font-weight="bold" fill="#111" text-anchor="start" textLength="62" lengthAdjust="spacing" stroke="#111" stroke-width="0.6">Stream or</text>
<text x="508.5" y="35.2" font-size="11.2" font-weight="bold" fill="#111" text-anchor="start" textLength="119.7" lengthAdjust="spacing" stroke="#111" stroke-width="0.6">Tertiary treatment</text>
<polygon points="533.3,67.8 552,67.8 552,59.8 566.8,74.4 552,88.9 552,81.6 533.3,81.6" fill="#f23614" stroke="#3a0a04" stroke-width="1.3" stroke-linejoin="miter" stroke-miterlimit="3" />
<polygon points="245.5,381.7 500,381.7 556.3,322.6 424,322.6 376,377 250,377" fill="url(#grass2)" stroke="#111" stroke-width="1" stroke-linejoin="miter" stroke-miterlimit="3" />
<polygon points="245.5,381.7 500,381.7 556.3,322.6 424,322.6 376,377 250,377" fill="url(#nzG)" />
<polygon points="245.5,381.2 500,381.2 503.5,377.6 249,377.6" fill="#55582a" />
<path d="M380.2 254.5 L394.9 254.5 L394.9 235.4 L403.6 235.4 Q397 224 388.3 219.1 Q379 224 372 235.4 L380.2 235.4 Z" fill="#f23614" stroke="#3a0a04" stroke-width="1.3" shape-rendering="auto"/>
<polygon points="310.3,308.8 361.2,260.6 424.5,260.6 375.7,308.8" fill="url(#chkR)" stroke="#111" stroke-width="1" stroke-linejoin="miter" stroke-miterlimit="3" />
<polygon points="375.7,308.8 424.5,260.6 424.5,326 375.7,376" fill="url(#chkS)" stroke="#111" stroke-width="1" stroke-linejoin="miter" stroke-miterlimit="3" />
<line x1="376.5" y1="308.5" x2="424" y2="261.5" stroke="#f4f4f4" stroke-width="2" shape-rendering="auto"/>
<polygon points="254.6,351.8 301.7,305.3 312,305.3 310.3,351.8" fill="url(#chkR)" stroke="#111" stroke-width="1" stroke-linejoin="miter" stroke-miterlimit="3" />
<path d="M254.6 351.8 L301.7 305.3 L312 305.3" fill="none" stroke="#2a2a1a" stroke-width="2" shape-rendering="auto"/>
<rect x="254.6" y="351.8" width="55.7" height="25.5" fill="url(#chkL)" stroke="#111" stroke-width="1" />
<rect x="259.4" y="358.6" width="3.6" height="5.9" fill="#8a8a8a" stroke="#111" stroke-width="1" />
<rect x="264.5" y="358.6" width="3.6" height="5.9" fill="#8a8a8a" stroke="#111" stroke-width="1" />
<rect x="269.59999999999997" y="358.6" width="3.6" height="5.9" fill="#8a8a8a" stroke="#111" stroke-width="1" />
<rect x="274.7" y="358.6" width="3.6" height="5.9" fill="#8a8a8a" stroke="#111" stroke-width="1" />
<rect x="279.79999999999995" y="358.6" width="3.6" height="5.9" fill="#8a8a8a" stroke="#111" stroke-width="1" />
<rect x="284.9" y="358.6" width="3.6" height="5.9" fill="#8a8a8a" stroke="#111" stroke-width="1" />
<rect x="290.0" y="358.6" width="3.6" height="5.9" fill="#8a8a8a" stroke="#111" stroke-width="1" />
<rect x="295.09999999999997" y="358.6" width="3.6" height="5.9" fill="#8a8a8a" stroke="#111" stroke-width="1" />
<rect x="300.2" y="358.6" width="3.6" height="5.9" fill="#8a8a8a" stroke="#111" stroke-width="1" />
<rect x="259.4" y="368" width="5.6" height="9" fill="#222" />
<rect x="310.3" y="308.8" width="65.4" height="68.5" fill="url(#chkL)" stroke="#111" stroke-width="1" />
<rect x="318.2" y="318.4" width="12.8" height="17.2" fill="url(#win)" stroke="#111" stroke-width="1" />
<rect x="318.2" y="318.4" width="1.8" height="17.2" fill="#111" />
<rect x="318.2" y="318.4" width="12.8" height="1.5" fill="#111" />
<rect x="318.2" y="340.4" width="12.8" height="17.2" fill="url(#win)" stroke="#111" stroke-width="1" />
<rect x="318.2" y="340.4" width="1.8" height="17.2" fill="#111" />
<rect x="318.2" y="340.4" width="12.8" height="1.5" fill="#111" />
<rect x="337.2" y="318.4" width="12.8" height="17.2" fill="url(#win)" stroke="#111" stroke-width="1" />
<rect x="337.2" y="318.4" width="1.8" height="17.2" fill="#111" />
<rect x="337.2" y="318.4" width="12.8" height="1.5" fill="#111" />
<rect x="337.2" y="340.4" width="12.8" height="17.2" fill="url(#win)" stroke="#111" stroke-width="1" />
<rect x="337.2" y="340.4" width="1.8" height="17.2" fill="#111" />
<rect x="337.2" y="340.4" width="12.8" height="1.5" fill="#111" />
<rect x="355" y="318.4" width="12.8" height="17.2" fill="url(#win)" stroke="#111" stroke-width="1" />
<rect x="355" y="318.4" width="1.8" height="17.2" fill="#111" />
<rect x="355" y="318.4" width="12.8" height="1.5" fill="#111" />
<rect x="355" y="340.4" width="12.8" height="17.2" fill="url(#win)" stroke="#111" stroke-width="1" />
<rect x="355" y="340.4" width="1.8" height="17.2" fill="#111" />
<rect x="355" y="340.4" width="12.8" height="1.5" fill="#111" />
<g shape-rendering="auto">
<ellipse cx="356.79999999999995" cy="287.4" rx="10.099999999999994" ry="4" fill="#eee" stroke="#111" stroke-width="1"/>
<path d="M348.2 249.9 L348.2 286.9 A8.599999999999994 3 0 0 0 365.4 286.9 L365.4 249.9 Z" fill="url(#chim)" stroke="#111" stroke-width="1.2"/>
<ellipse cx="356.79999999999995" cy="250.4" rx="8.099999999999994" ry="3.2" fill="#1a1a1a" stroke="#f0f0f0" stroke-width="1.4"/>
<ellipse cx="338.7" cy="301.1" rx="11.0" ry="4" fill="#eee" stroke="#111" stroke-width="1"/>
<path d="M329.2 266.4 L329.2 300.6 A9.5 3 0 0 0 348.2 300.6 L348.2 266.4 Z" fill="url(#chim)" stroke="#111" stroke-width="1.2"/>
<ellipse cx="338.7" cy="266.9" rx="9.0" ry="3.2" fill="#1a1a1a" stroke="#f0f0f0" stroke-width="1.4"/>
</g>
<g shape-rendering="auto">
<rect x="400" y="339.7" width="40" height="5.5" rx="2.75" fill="#5a5a5a" stroke="#111" stroke-width="1"/>
<rect x="402" y="340.7" width="36" height="1.6" fill="#b8b8b8"/>
<rect x="391.8" y="347.6" width="48.19999999999999" height="5.0" rx="2.5" fill="#5a5a5a" stroke="#111" stroke-width="1"/>
<rect x="393.8" y="348.6" width="44.19999999999999" height="1.6" fill="#b8b8b8"/>
<rect x="385.2" y="356.3" width="54.80000000000001" height="5.5" rx="2.75" fill="#5a5a5a" stroke="#111" stroke-width="1"/>
<rect x="387.2" y="357.3" width="50.80000000000001" height="1.6" fill="#b8b8b8"/>
</g>
<path d="M480 310.2 L502.5 310.2 L502.5 319" fill="none" stroke="#222" stroke-width="5" shape-rendering="auto"/>
<path d="M480 310.2 L502.5 310.2 L502.5 319" fill="none" stroke="#8a8a5a" stroke-width="3" shape-rendering="auto"/>
<g shape-rendering="auto">
<path d="M463 304.7 L463 348 Q463 351 467 351 L477.9 351 Q481.9 351 481.9 348 L481.9 304.7 Z" fill="url(#silo)" stroke="#111" stroke-width="1.2"/>
<path d="M463 304.7 L469.45 291.8 L475.45 291.8 L481.9 304.7 Z" fill="url(#cone)" stroke="#111" stroke-width="1.2"/>
<rect x="469.95" y="289.8" width="5" height="2.2" fill="#e0e0e0" stroke="#111" stroke-width="0.8"/>
<rect x="463" y="304.7" width="18.899999999999977" height="1.8" fill="#222"/>
</g>
<g shape-rendering="auto">
<path d="M452.3 313 L452.3 356.4 Q452.3 359.4 456.3 359.4 L467.2 359.4 Q471.2 359.4 471.2 356.4 L471.2 313 Z" fill="url(#silo)" stroke="#111" stroke-width="1.2"/>
<path d="M452.3 313 L458.75 300.1 L464.75 300.1 L471.2 313 Z" fill="url(#cone)" stroke="#111" stroke-width="1.2"/>
<rect x="459.25" y="298.1" width="5" height="2.2" fill="#e0e0e0" stroke="#111" stroke-width="0.8"/>
<rect x="452.3" y="313" width="18.899999999999977" height="1.8" fill="#222"/>
</g>
<g shape-rendering="auto">
<path d="M436.4 321.3 L436.4 363.5 Q436.4 366.5 440.4 366.5 L454.2 366.5 Q458.2 366.5 458.2 363.5 L458.2 321.3 Z" fill="url(#silo)" stroke="#111" stroke-width="1.2"/>
<path d="M436.4 321.3 L444.29999999999995 309 L450.29999999999995 309 L458.2 321.3 Z" fill="url(#cone)" stroke="#111" stroke-width="1.2"/>
<rect x="444.79999999999995" y="307" width="5" height="2.2" fill="#e0e0e0" stroke="#111" stroke-width="0.8"/>
<rect x="436.4" y="321.3" width="21.80000000000001" height="1.8" fill="#222"/>
</g>
<path d="M448.5 307 L448.5 303 L466.5 283 L471 283 L471 290 M459.6 291 L459.6 298" fill="none" stroke="#111" stroke-width="3" shape-rendering="auto"/>
<path d="M448.5 307 L448.5 303 L466.5 283 L471 283 L471 290 M459.6 291 L459.6 298" fill="none" stroke="#6a6a6a" stroke-width="1" shape-rendering="auto"/>
<g shape-rendering="auto">
<path d="M478.3 322 L478.3 354 Q478.3 358.2 483 358.2 L515 358.2 Q519.8 358.2 519.8 354 L519.8 322 Z" fill="url(#tankG)" stroke="#111" stroke-width="1.2"/>
<rect x="512" y="324" width="7" height="32" fill="#5a5a2a" opacity="0.7"/>
<ellipse cx="499" cy="322" rx="20.7" ry="4.3" fill="#c8d0f0" stroke="#111" stroke-width="1.2"/>
<circle cx="505" cy="352.3" r="1.3" fill="#111"/>
</g>
<text x="305.6" y="396.5" font-size="11.2" font-weight="bold" fill="#111" text-anchor="start" textLength="135" lengthAdjust="spacing" stroke="#111" stroke-width="0.6">Secondary treatment</text>
</svg></body></html>
